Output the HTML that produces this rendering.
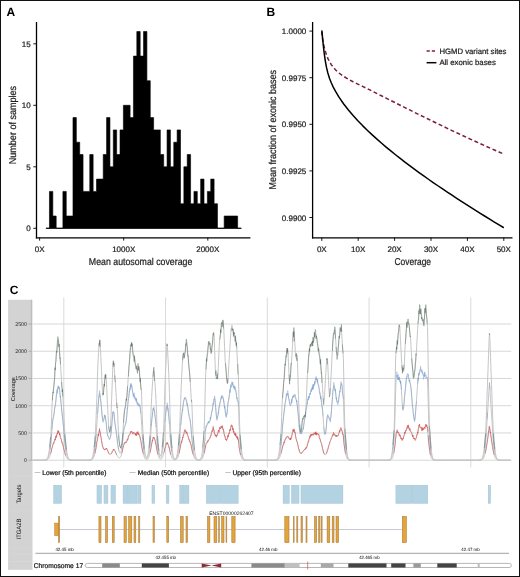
<!DOCTYPE html>
<html><head><meta charset="utf-8"><style>
html,body{margin:0;padding:0;background:#fff;width:520px;height:577px;overflow:hidden}
</style></head><body>
<svg width="520" height="577" viewBox="0 0 520 577" style="display:block;will-change:transform">
<rect x="0" y="0" width="520" height="577" fill="#fff"/>
<g font-family='"Liberation Sans", sans-serif' text-rendering="geometricPrecision">
<text x="6.6" y="16" font-size="12" text-anchor="start" fill="#000" font-weight="bold">A</text>
<path d="M46.1 228.3 L46.1 228.3 L49.46 228.3 L49.46 191.4 L52.82 191.4 L52.82 216 L56.18 216 L56.18 228.3 L59.54 228.3 L59.54 228.3 L62.9 228.3 L62.9 191.4 L66.26 191.4 L66.26 216 L69.62 216 L69.62 216 L72.98 216 L72.98 117.6 L76.34 117.6 L76.34 142.2 L79.7 142.2 L79.7 154.5 L83.06 154.5 L83.06 191.4 L86.42 191.4 L86.42 191.4 L89.78 191.4 L89.78 154.5 L93.14 154.5 L93.14 191.4 L96.5 191.4 L96.5 179.1 L99.86 179.1 L99.86 179.1 L103.22 179.1 L103.22 154.5 L106.58 154.5 L106.58 117.6 L109.94 117.6 L109.94 166.8 L113.3 166.8 L113.3 129.9 L116.66 129.9 L116.66 154.5 L120.02 154.5 L120.02 129.9 L123.38 129.9 L123.38 105.3 L126.74 105.3 L126.74 105.3 L130.1 105.3 L130.1 117.6 L133.46 117.6 L133.46 56.1 L136.82 56.1 L136.82 31.5 L140.18 31.5 L140.18 56.1 L143.54 56.1 L143.54 31.5 L146.9 31.5 L146.9 80.7 L150.26 80.7 L150.26 117.6 L153.62 117.6 L153.62 129.9 L156.98 129.9 L156.98 129.9 L160.34 129.9 L160.34 154.5 L163.7 154.5 L163.7 166.8 L167.06 166.8 L167.06 129.9 L170.42 129.9 L170.42 166.8 L173.78 166.8 L173.78 142.2 L177.14 142.2 L177.14 129.9 L180.5 129.9 L180.5 203.7 L183.86 203.7 L183.86 166.8 L187.22 166.8 L187.22 154.5 L190.58 154.5 L190.58 203.7 L193.94 203.7 L193.94 191.4 L197.3 191.4 L197.3 203.7 L200.66 203.7 L200.66 179.1 L204.02 179.1 L204.02 203.7 L207.38 203.7 L207.38 191.4 L210.74 191.4 L210.74 179.1 L214.1 179.1 L214.1 203.7 L217.46 203.7 L217.46 228.3 L220.82 228.3 L220.82 228.3 L224.18 228.3 L224.18 216 L227.54 216 L227.54 216 L230.9 216 L230.9 216 L234.26 216 L234.26 216 L237.62 216 L237.62 228.3 L240.98 228.3 L240.98 228.3 Z" fill="#000" stroke="#000" stroke-width="0.6"/>
<line x1="45.8" y1="228.3" x2="241.6" y2="228.3" stroke="#000" stroke-width="0.8"/>
<line x1="36.5" y1="22" x2="36.5" y2="238.5" stroke="#000" stroke-width="1.3"/>
<line x1="35.9" y1="237.85" x2="250.4" y2="237.85" stroke="#000" stroke-width="1.4"/>
<line x1="33.3" y1="228.3" x2="36.5" y2="228.3" stroke="#000" stroke-width="0.9"/>
<text x="30.6" y="231.4" font-size="8" text-anchor="end" fill="#222" stroke="#222" stroke-width="0.22">0</text>
<line x1="33.3" y1="166.8" x2="36.5" y2="166.8" stroke="#000" stroke-width="0.9"/>
<text x="30.6" y="169.9" font-size="8" text-anchor="end" fill="#222" stroke="#222" stroke-width="0.22">5</text>
<line x1="33.3" y1="105.3" x2="36.5" y2="105.3" stroke="#000" stroke-width="0.9"/>
<text x="30.6" y="108.4" font-size="8" text-anchor="end" fill="#222" stroke="#222" stroke-width="0.22">10</text>
<line x1="33.3" y1="43.8" x2="36.5" y2="43.8" stroke="#000" stroke-width="0.9"/>
<text x="30.6" y="46.9" font-size="8" text-anchor="end" fill="#222" stroke="#222" stroke-width="0.22">15</text>
<line x1="39.6" y1="237.7" x2="39.6" y2="240.6" stroke="#000" stroke-width="0.9"/>
<text x="39.6" y="251.9" font-size="8" text-anchor="middle" fill="#222" stroke="#222" stroke-width="0.22">0X</text>
<line x1="123.7" y1="237.7" x2="123.7" y2="240.6" stroke="#000" stroke-width="0.9"/>
<text x="123.7" y="251.9" font-size="8" text-anchor="middle" fill="#222" stroke="#222" stroke-width="0.22">1000X</text>
<line x1="207.8" y1="237.7" x2="207.8" y2="240.6" stroke="#000" stroke-width="0.9"/>
<text x="207.8" y="251.9" font-size="8" text-anchor="middle" fill="#222" stroke="#222" stroke-width="0.22">2000X</text>
<text x="140.6" y="265" font-size="10" text-anchor="middle" fill="#222" stroke="#222" stroke-width="0.22" textLength="103.5" lengthAdjust="spacingAndGlyphs">Mean autosomal coverage</text>
<text x="16.3" y="125.1" font-size="10" text-anchor="middle" fill="#222" stroke="#222" stroke-width="0.22" textLength="78.2" lengthAdjust="spacingAndGlyphs" transform="rotate(-90 16.3 125.1)">Number of samples</text>
<text x="266.5" y="16" font-size="12" text-anchor="start" fill="#000" font-weight="bold">B</text>
<line x1="312.6" y1="22" x2="312.6" y2="238.5" stroke="#000" stroke-width="1.3"/>
<line x1="312" y1="237.85" x2="512.5" y2="237.85" stroke="#000" stroke-width="1.4"/>
<line x1="309.4" y1="31.1" x2="312.6" y2="31.1" stroke="#000" stroke-width="0.9"/>
<text x="306.3" y="34.2" font-size="8" text-anchor="end" fill="#222" stroke="#222" stroke-width="0.22">1.0000</text>
<line x1="309.4" y1="77.7" x2="312.6" y2="77.7" stroke="#000" stroke-width="0.9"/>
<text x="306.3" y="80.8" font-size="8" text-anchor="end" fill="#222" stroke="#222" stroke-width="0.22">0.9975</text>
<line x1="309.4" y1="124.3" x2="312.6" y2="124.3" stroke="#000" stroke-width="0.9"/>
<text x="306.3" y="127.4" font-size="8" text-anchor="end" fill="#222" stroke="#222" stroke-width="0.22">0.9950</text>
<line x1="309.4" y1="170.9" x2="312.6" y2="170.9" stroke="#000" stroke-width="0.9"/>
<text x="306.3" y="174" font-size="8" text-anchor="end" fill="#222" stroke="#222" stroke-width="0.22">0.9925</text>
<line x1="309.4" y1="217.5" x2="312.6" y2="217.5" stroke="#000" stroke-width="0.9"/>
<text x="306.3" y="220.6" font-size="8" text-anchor="end" fill="#222" stroke="#222" stroke-width="0.22">0.9900</text>
<line x1="321.8" y1="237.6" x2="321.8" y2="240.9" stroke="#000" stroke-width="0.9"/>
<text x="321.8" y="251.6" font-size="8" text-anchor="middle" fill="#222" stroke="#222" stroke-width="0.22">0X</text>
<line x1="358.2" y1="237.6" x2="358.2" y2="240.9" stroke="#000" stroke-width="0.9"/>
<text x="358.2" y="251.6" font-size="8" text-anchor="middle" fill="#222" stroke="#222" stroke-width="0.22">10X</text>
<line x1="394.6" y1="237.6" x2="394.6" y2="240.9" stroke="#000" stroke-width="0.9"/>
<text x="394.6" y="251.6" font-size="8" text-anchor="middle" fill="#222" stroke="#222" stroke-width="0.22">20X</text>
<line x1="431" y1="237.6" x2="431" y2="240.9" stroke="#000" stroke-width="0.9"/>
<text x="431" y="251.6" font-size="8" text-anchor="middle" fill="#222" stroke="#222" stroke-width="0.22">30X</text>
<line x1="467.4" y1="237.6" x2="467.4" y2="240.9" stroke="#000" stroke-width="0.9"/>
<text x="467.4" y="251.6" font-size="8" text-anchor="middle" fill="#222" stroke="#222" stroke-width="0.22">40X</text>
<line x1="503.8" y1="237.6" x2="503.8" y2="240.9" stroke="#000" stroke-width="0.9"/>
<text x="503.8" y="251.6" font-size="8" text-anchor="middle" fill="#222" stroke="#222" stroke-width="0.22">50X</text>
<text x="412.75" y="264.9" font-size="10" text-anchor="middle" fill="#222" stroke="#222" stroke-width="0.22" textLength="36.5" lengthAdjust="spacingAndGlyphs">Coverage</text>
<text x="276.1" y="129.75" font-size="10" text-anchor="middle" fill="#222" stroke="#222" stroke-width="0.22" textLength="119.5" lengthAdjust="spacingAndGlyphs" transform="rotate(-90 276.1 129.75)">Mean fraction of exonic bases</text>
<path d="M321.8 31.41 L321.89 33.37 L322.18 36.06 L322.65 39.33 L323.31 42.99 L324.17 46.89 L325.21 50.86 L326.44 54.73 L327.86 58.33 L329.47 61.6 L331.27 64.58 L333.26 67.28 L335.43 69.74 L337.8 72 L339 73.01 L343.71 76.42 L348.42 79.23 L353.13 81.73 L357.83 84.07 L362.54 86.37 L367.25 88.69 L371.96 91.03 L376.67 93.38 L381.38 95.75 L386.09 98.12 L390.79 100.49 L395.5 102.86 L400.21 105.22 L404.92 107.58 L409.63 109.93 L414.34 112.27 L419.05 114.6 L423.75 116.92 L428.46 119.23 L433.17 121.53 L437.88 123.81 L442.59 126.07 L447.3 128.32 L452.01 130.56 L456.71 132.78 L461.42 134.99 L466.13 137.18 L470.84 139.36 L475.55 141.51 L480.26 143.66 L484.97 145.78 L489.67 147.89 L494.38 149.98 L499.09 152.06 L503.8 154.12" fill="none" stroke="#7a1c3a" stroke-width="1.5" stroke-dasharray="4 2.6"/>
<path d="M321.8 31.33 L321.89 31.04 L322.18 33.8 L322.65 38.87 L323.31 45.48 L324.17 52.9 L325.21 60.35 L326.44 67.14 L327.86 73.02 L329.47 78.17 L331.27 82.79 L333.26 87.07 L335.43 91.19 L337.8 95.23 L339 97.15 L343.71 103.99 L348.42 110.06 L353.13 115.59 L357.83 120.73 L362.54 125.6 L367.25 130.23 L371.96 134.66 L376.67 138.93 L381.38 143.06 L386.09 147.06 L390.79 150.95 L395.5 154.75 L400.21 158.45 L404.92 162.08 L409.63 165.63 L414.34 169.12 L419.05 172.55 L423.75 175.92 L428.46 179.24 L433.17 182.52 L437.88 185.75 L442.59 188.94 L447.3 192.1 L452.01 195.22 L456.71 198.3 L461.42 201.36 L466.13 204.39 L470.84 207.39 L475.55 210.36 L480.26 213.31 L484.97 216.24 L489.67 219.15 L494.38 222.04 L499.09 224.9 L503.8 227.75" fill="none" stroke="#000" stroke-width="1.5" stroke-linejoin="round"/>
<line x1="426.6" y1="51" x2="436.4" y2="51" stroke="#8a1a3c" stroke-width="1.5" stroke-dasharray="3.2 2"/>
<line x1="426.6" y1="62.7" x2="436.4" y2="62.7" stroke="#000" stroke-width="1.5"/>
<text x="439.4" y="53.8" font-size="7.75" text-anchor="start" fill="#222" stroke="#222" stroke-width="0.22" textLength="67.1" lengthAdjust="spacingAndGlyphs">HGMD variant sites</text>
<text x="439.4" y="65.4" font-size="7.75" text-anchor="start" fill="#222" stroke="#222" stroke-width="0.22" textLength="56.4" lengthAdjust="spacingAndGlyphs">All exonic bases</text>
<text x="9.8" y="294.4" font-size="12" text-anchor="start" fill="#000" font-weight="bold">C</text>
<rect x="8.1" y="299.8" width="24.4" height="270" fill="#d3d3d3"/>
<line x1="8.1" y1="476.2" x2="32.5" y2="476.2" stroke="#d9d9d9" stroke-width="0.7"/>
<line x1="8.1" y1="510.8" x2="32.5" y2="510.8" stroke="#d9d9d9" stroke-width="0.7"/>
<line x1="8.1" y1="547.3" x2="32.5" y2="547.3" stroke="#d9d9d9" stroke-width="0.7"/>
<line x1="8.1" y1="553.8" x2="32.5" y2="553.8" stroke="#d9d9d9" stroke-width="0.7"/>
<line x1="8.1" y1="561.5" x2="32.5" y2="561.5" stroke="#d9d9d9" stroke-width="0.7"/>
<line x1="31.4" y1="299.8" x2="31.4" y2="460.2" stroke="#bdbdbd" stroke-width="1.2"/>
<line x1="32.5" y1="460.2" x2="511.3" y2="460.2" stroke="#d2d2d2" stroke-width="0.9"/>
<line x1="28.6" y1="460.2" x2="31.6" y2="460.2" stroke="#9a9a9a" stroke-width="0.7"/>
<text x="27" y="462.1" font-size="5.3" text-anchor="end" fill="#222">0</text>
<line x1="32.5" y1="432.96" x2="511.3" y2="432.96" stroke="#d2d2d2" stroke-width="0.9"/>
<line x1="28.6" y1="432.96" x2="31.6" y2="432.96" stroke="#9a9a9a" stroke-width="0.7"/>
<text x="27" y="434.86" font-size="5.3" text-anchor="end" fill="#222">500</text>
<line x1="32.5" y1="405.72" x2="511.3" y2="405.72" stroke="#d2d2d2" stroke-width="0.9"/>
<line x1="28.6" y1="405.72" x2="31.6" y2="405.72" stroke="#9a9a9a" stroke-width="0.7"/>
<text x="27" y="407.62" font-size="5.3" text-anchor="end" fill="#222">1000</text>
<line x1="32.5" y1="378.48" x2="511.3" y2="378.48" stroke="#d2d2d2" stroke-width="0.9"/>
<line x1="28.6" y1="378.48" x2="31.6" y2="378.48" stroke="#9a9a9a" stroke-width="0.7"/>
<text x="27" y="380.38" font-size="5.3" text-anchor="end" fill="#222">1500</text>
<line x1="32.5" y1="351.24" x2="511.3" y2="351.24" stroke="#d2d2d2" stroke-width="0.9"/>
<line x1="28.6" y1="351.24" x2="31.6" y2="351.24" stroke="#9a9a9a" stroke-width="0.7"/>
<text x="27" y="353.14" font-size="5.3" text-anchor="end" fill="#222">2000</text>
<line x1="32.5" y1="324" x2="511.3" y2="324" stroke="#d2d2d2" stroke-width="0.9"/>
<line x1="28.6" y1="324" x2="31.6" y2="324" stroke="#9a9a9a" stroke-width="0.7"/>
<text x="27" y="325.9" font-size="5.3" text-anchor="end" fill="#222">2500</text>
<line x1="63.8" y1="297.5" x2="63.8" y2="467.5" stroke="#d6d6d6" stroke-width="0.9"/>
<line x1="165.55" y1="297.5" x2="165.55" y2="467.5" stroke="#d6d6d6" stroke-width="0.9"/>
<line x1="267.3" y1="297.5" x2="267.3" y2="467.5" stroke="#d6d6d6" stroke-width="0.9"/>
<line x1="369.05" y1="297.5" x2="369.05" y2="467.5" stroke="#d6d6d6" stroke-width="0.9"/>
<line x1="470.8" y1="297.5" x2="470.8" y2="467.5" stroke="#d6d6d6" stroke-width="0.9"/>
<text x="15.2" y="389.2" font-size="5.6" text-anchor="middle" fill="#111" textLength="24.3" lengthAdjust="spacingAndGlyphs" transform="rotate(-90 15.2 389.2)">Coverage</text>
<defs><clipPath id="cc"><rect x="32" y="290" width="480" height="167"/></clipPath></defs>
<g fill="none" stroke-linejoin="round">
<path d="M32.50 460.20 L32.83 460.20 L33.16 460.20 L33.49 460.20 L33.82 460.20 L34.15 460.20 L34.48 460.20 L34.81 460.20 L35.14 460.20 L35.47 460.20 L35.80 460.20 L36.13 460.20 L36.46 460.20 L36.79 460.20 L37.12 460.20 L37.45 460.20 L37.78 460.20 L38.11 460.20 L38.44 460.20 L38.77 460.20 L39.10 460.20 L39.43 460.20 L39.76 460.20 L40.09 460.20 L40.42 460.20 L40.75 460.20 L41.08 460.20 L41.41 460.19 L41.74 460.19 L42.07 460.19 L42.40 460.18 L42.73 460.18 L43.06 460.17 L43.39 460.16 L43.72 460.14 L44.05 460.12 L44.38 460.09 L44.71 460.04 L45.04 459.98 L45.37 459.90 L45.70 459.79 L46.03 459.63 L46.36 459.41 L46.69 459.11 L47.02 458.71 L47.35 458.17 L47.68 457.45 L48.01 456.49 L48.34 455.26 L48.67 453.70 L49.00 451.76 L49.33 449.42 L49.66 446.68 L49.99 443.59 L50.32 440.17 L50.65 436.31 L50.98 431.64 L51.31 424.97 L51.64 416.20 L51.97 406.62 L52.30 401.00 L52.63 396.66 L52.96 393.17 L53.29 390.28 L53.62 387.54 L53.95 384.46 L54.28 380.67 L54.61 376.38 L54.94 371.88 L55.27 367.55 L55.60 363.76 L55.93 360.02 L56.26 356.22 L56.59 352.55 L56.92 349.24 L57.25 346.11 L57.58 342.82 L57.91 340.28 L58.24 339.44 L58.57 340.97 L58.90 344.12 L59.23 347.78 L59.56 351.55 L59.89 356.10 L60.22 360.93 L60.55 365.54 L60.88 370.60 L61.21 376.06 L61.54 381.21 L61.87 385.39 L62.20 388.53 L62.53 392.16 L62.86 396.36 L63.19 401.02 L63.52 406.13 L63.85 413.16 L64.18 420.37 L64.51 427.36 L64.84 432.81 L65.17 437.20 L65.50 440.92 L65.83 444.19 L66.16 447.11 L66.49 449.68 L66.82 451.89 L67.15 453.74 L67.48 455.25 L67.81 456.45 L68.14 457.39 L68.47 458.11 L68.80 458.66 L69.13 459.07 L69.46 459.37 L69.79 459.60 L70.12 459.76 L70.45 459.88 L70.78 459.97 L71.11 460.04 L71.44 460.08 L71.77 460.11 L72.10 460.14 L72.43 460.16 L72.76 460.17 L73.09 460.18 L73.42 460.18 L73.75 460.19 L74.08 460.19 L74.41 460.19 L74.74 460.20 L75.07 460.20 L75.40 460.20 L75.73 460.20 L76.06 460.20 L76.39 460.20 L76.72 460.20 L77.05 460.20 L77.38 460.20 L77.71 460.20 L78.04 460.20 L78.37 460.20 L78.70 460.20 L79.03 460.20 L79.36 460.20 L79.69 460.20 L80.02 460.20 L80.35 460.20 L80.68 460.20 L81.01 460.20 L81.34 460.20 L81.67 460.20 L82.00 460.20 L82.33 460.20 L82.66 460.20 L82.99 460.20 L83.32 460.20 L83.65 460.20 L83.98 460.20 L84.31 460.20 L84.64 460.20 L84.97 460.20 L85.30 460.20 L85.63 460.20 L85.96 460.20 L86.29 460.20 L86.62 460.19 L86.95 460.19 L87.28 460.19 L87.61 460.18 L87.94 460.18 L88.27 460.16 L88.60 460.15 L88.93 460.13 L89.26 460.09 L89.59 460.05 L89.92 459.98 L90.25 459.88 L90.58 459.75 L90.91 459.55 L91.24 459.28 L91.57 458.91 L91.90 458.39 L92.23 457.68 L92.56 456.73 L92.89 455.48 L93.22 453.87 L93.55 451.85 L93.88 449.39 L94.21 446.49 L94.54 443.17 L94.87 439.48 L95.20 435.35 L95.53 430.58 L95.86 423.93 L96.19 415.41 L96.52 406.69 L96.85 398.35 L97.18 388.02 L97.51 376.10 L97.84 366.00 L98.17 358.62 L98.50 352.70 L98.83 347.95 L99.16 344.33 L99.49 341.83 L99.82 340.47 L100.15 342.59 L100.48 348.60 L100.81 356.36 L101.14 363.73 L101.47 370.40 L101.80 378.22 L102.13 385.91 L102.46 392.11 L102.79 395.45 L103.12 395.20 L103.45 393.02 L103.78 389.78 L104.11 386.27 L104.44 383.27 L104.77 380.83 L105.10 378.22 L105.43 375.98 L105.76 374.65 L106.09 375.40 L106.42 380.41 L106.75 388.16 L107.08 396.72 L107.41 404.14 L107.74 409.76 L108.07 415.65 L108.40 421.59 L108.73 427.16 L109.06 429.98 L109.39 431.25 L109.72 431.36 L110.05 430.74 L110.38 429.51 L110.71 424.96 L111.04 415.46 L111.37 405.99 L111.70 397.92 L112.03 388.90 L112.36 379.12 L112.69 370.09 L113.02 363.36 L113.35 360.46 L113.68 361.66 L114.01 364.95 L114.34 369.42 L114.67 374.19 L115.00 378.47 L115.33 382.64 L115.66 387.37 L115.99 392.40 L116.32 397.49 L116.65 402.25 L116.98 405.59 L117.31 408.80 L117.64 414.65 L117.97 422.98 L118.30 430.27 L118.63 435.30 L118.96 438.99 L119.29 441.93 L119.62 444.30 L119.95 446.11 L120.28 447.28 L120.61 447.77 L120.94 447.54 L121.27 446.65 L121.60 445.14 L121.93 443.08 L122.26 440.44 L122.59 437.03 L122.92 432.53 L123.25 426.64 L123.58 420.91 L123.91 417.14 L124.24 414.08 L124.57 411.52 L124.90 409.16 L125.23 406.74 L125.56 404.48 L125.89 402.35 L126.22 400.32 L126.55 398.37 L126.88 396.02 L127.21 392.51 L127.54 388.16 L127.87 383.29 L128.20 378.26 L128.53 373.42 L128.86 369.14 L129.19 365.52 L129.52 361.68 L129.85 357.70 L130.18 353.81 L130.51 350.22 L130.84 347.16 L131.17 344.86 L131.50 343.52 L131.83 343.53 L132.16 345.87 L132.49 349.47 L132.82 352.80 L133.15 354.59 L133.48 355.65 L133.81 356.51 L134.14 357.41 L134.47 358.62 L134.80 360.45 L135.13 362.67 L135.46 364.90 L135.79 366.77 L136.12 367.95 L136.45 368.92 L136.78 369.74 L137.11 370.24 L137.44 370.10 L137.77 369.08 L138.10 367.91 L138.43 367.37 L138.76 368.09 L139.09 369.73 L139.42 372.07 L139.75 375.02 L140.08 378.54 L140.41 382.46 L140.74 385.05 L141.07 387.29 L141.40 390.68 L141.73 399.05 L142.06 409.27 L142.39 419.16 L142.72 428.02 L143.05 433.60 L143.38 437.92 L143.71 441.69 L144.04 445.12 L144.37 448.19 L144.70 450.83 L145.03 452.99 L145.36 454.69 L145.69 455.95 L146.02 456.82 L146.35 457.33 L146.68 457.51 L147.01 457.35 L147.34 456.84 L147.67 455.95 L148.00 454.61 L148.33 452.78 L148.66 450.42 L148.99 447.56 L149.32 444.27 L149.65 440.67 L149.98 436.71 L150.31 431.73 L150.64 423.50 L150.97 412.25 L151.30 404.17 L151.63 397.58 L151.96 392.12 L152.29 387.22 L152.62 381.97 L152.95 377.02 L153.28 373.06 L153.61 370.67 L153.94 370.57 L154.27 373.32 L154.60 377.83 L154.93 382.88 L155.26 387.70 L155.59 392.70 L155.92 398.49 L156.25 405.34 L156.58 413.89 L156.91 424.55 L157.24 432.21 L157.57 437.05 L157.90 440.96 L158.23 444.49 L158.56 447.68 L158.89 450.42 L159.22 452.62 L159.55 454.26 L159.88 455.33 L160.21 455.87 L160.54 455.88 L160.87 455.36 L161.20 454.29 L161.53 452.62 L161.86 450.33 L162.19 447.42 L162.52 443.97 L162.85 440.16 L163.18 436.10 L163.51 431.59 L163.84 424.51 L164.17 413.03 L164.50 400.27 L164.83 390.06 L165.16 380.59 L165.49 372.29 L165.82 365.35 L166.15 359.37 L166.48 352.32 L166.81 346.18 L167.14 343.99 L167.47 347.42 L167.80 354.05 L168.13 360.90 L168.46 366.91 L168.79 374.18 L169.12 382.79 L169.45 392.50 L169.78 403.43 L170.11 415.96 L170.44 427.03 L170.77 432.79 L171.10 437.17 L171.43 441.20 L171.76 445.00 L172.09 448.42 L172.42 451.31 L172.75 453.64 L173.08 455.44 L173.41 456.77 L173.74 457.72 L174.07 458.37 L174.40 458.77 L174.73 458.97 L175.06 459.01 L175.39 458.88 L175.72 458.58 L176.05 458.09 L176.38 457.37 L176.71 456.37 L177.04 455.03 L177.37 453.30 L177.70 451.12 L178.03 448.48 L178.36 445.39 L178.69 441.93 L179.02 438.12 L179.35 433.84 L179.68 428.59 L180.01 420.19 L180.34 410.55 L180.67 401.07 L181.00 392.35 L181.33 384.36 L181.66 377.24 L181.99 370.65 L182.32 364.62 L182.65 359.48 L182.98 355.62 L183.31 353.62 L183.64 354.93 L183.97 357.28 L184.30 357.51 L184.63 355.66 L184.96 353.06 L185.29 350.57 L185.62 347.46 L185.95 344.28 L186.28 342.31 L186.61 342.64 L186.94 344.93 L187.27 348.32 L187.60 351.97 L187.93 355.22 L188.26 358.89 L188.59 362.93 L188.92 366.95 L189.25 370.63 L189.58 373.75 L189.91 377.16 L190.24 381.38 L190.57 386.56 L190.90 392.75 L191.23 398.42 L191.56 401.20 L191.89 404.26 L192.22 412.98 L192.55 423.08 L192.88 431.03 L193.21 436.13 L193.54 440.13 L193.87 443.66 L194.20 446.86 L194.53 449.71 L194.86 452.14 L195.19 454.12 L195.52 455.70 L195.85 456.91 L196.18 457.82 L196.51 458.50 L196.84 458.98 L197.17 459.33 L197.50 459.57 L197.83 459.73 L198.16 459.83 L198.49 459.88 L198.82 459.89 L199.15 459.84 L199.48 459.74 L199.81 459.57 L200.14 459.30 L200.47 458.91 L200.80 458.32 L201.13 457.50 L201.46 456.35 L201.79 454.78 L202.12 452.70 L202.45 450.06 L202.78 446.83 L203.11 443.12 L203.44 439.10 L203.77 434.95 L204.10 430.37 L204.43 422.09 L204.76 409.75 L205.09 395.99 L205.42 381.84 L205.75 372.49 L206.08 366.70 L206.41 362.74 L206.74 359.52 L207.07 355.84 L207.40 352.34 L207.73 349.48 L208.06 347.16 L208.39 345.31 L208.72 343.35 L209.05 341.68 L209.38 341.06 L209.71 342.57 L210.04 345.64 L210.37 349.26 L210.70 352.39 L211.03 354.02 L211.36 353.44 L211.69 351.14 L212.02 347.68 L212.35 343.60 L212.68 339.45 L213.01 335.75 L213.34 333.06 L213.67 331.91 L214.00 334.27 L214.33 341.16 L214.66 350.59 L214.99 360.56 L215.32 369.08 L215.65 374.15 L215.98 374.78 L216.31 374.78 L216.64 374.78 L216.97 374.78 L217.30 374.78 L217.63 374.76 L217.96 372.48 L218.29 367.23 L218.62 360.21 L218.95 352.63 L219.28 345.71 L219.61 340.64 L219.94 337.69 L220.27 334.93 L220.60 332.31 L220.93 329.85 L221.26 327.62 L221.59 325.67 L221.92 324.03 L222.25 322.76 L222.58 321.90 L222.91 321.51 L223.24 322.35 L223.57 325.97 L223.90 331.73 L224.23 338.88 L224.56 346.68 L224.89 354.36 L225.22 361.20 L225.55 366.43 L225.88 370.38 L226.21 374.38 L226.54 378.10 L226.87 381.16 L227.20 383.21 L227.53 383.86 L227.86 381.83 L228.19 377.16 L228.52 370.98 L228.85 364.37 L229.18 358.45 L229.51 353.70 L229.84 348.57 L230.17 343.21 L230.50 337.98 L230.83 333.21 L231.16 329.26 L231.49 326.45 L231.82 325.14 L232.15 325.62 L232.48 327.54 L232.81 330.16 L233.14 332.74 L233.47 334.55 L233.80 335.19 L234.13 335.60 L234.46 336.00 L234.79 336.49 L235.12 337.20 L235.45 338.28 L235.78 339.95 L236.11 342.22 L236.44 345.17 L236.77 349.10 L237.10 354.35 L237.43 360.95 L237.76 368.05 L238.09 372.28 L238.42 376.93 L238.75 389.79 L239.08 404.46 L239.41 417.81 L239.74 428.45 L240.07 433.43 L240.40 437.64 L240.73 441.72 L241.06 445.59 L241.39 449.02 L241.72 451.88 L242.05 454.15 L242.38 455.89 L242.71 457.17 L243.04 458.10 L243.37 458.76 L243.70 459.22 L244.03 459.54 L244.36 459.76 L244.69 459.90 L245.02 460.00 L245.35 460.07 L245.68 460.11 L246.01 460.14 L246.34 460.16 L246.67 460.17 L247.00 460.18 L247.33 460.19 L247.66 460.19 L247.99 460.20 L248.32 460.20 L248.65 460.20 L248.98 460.20 L249.31 460.20 L249.64 460.20 L249.97 460.20 L250.30 460.20 L250.63 460.20 L250.96 460.20 L251.29 460.20 L251.62 460.20 L251.95 460.20 L252.28 460.20 L252.61 460.20 L252.94 460.20 L253.27 460.20 L253.60 460.20 L253.93 460.20 L254.26 460.20 L254.59 460.20 L254.92 460.20 L255.25 460.20 L255.58 460.20 L255.91 460.20 L256.24 460.20 L256.57 460.20 L256.90 460.20 L257.23 460.20 L257.56 460.20 L257.89 460.20 L258.22 460.20 L258.55 460.20 L258.88 460.20 L259.21 460.20 L259.54 460.20 L259.87 460.20 L260.20 460.20 L260.53 460.20 L260.86 460.20 L261.19 460.20 L261.52 460.20 L261.85 460.20 L262.18 460.20 L262.51 460.20 L262.84 460.20 L263.17 460.20 L263.50 460.20 L263.83 460.20 L264.16 460.20 L264.49 460.20 L264.82 460.20 L265.15 460.20 L265.48 460.20 L265.81 460.20 L266.14 460.20 L266.47 460.20 L266.80 460.20 L267.13 460.20 L267.46 460.20 L267.79 460.20 L268.12 460.20 L268.45 460.20 L268.78 460.20 L269.11 460.20 L269.44 460.20 L269.77 460.20 L270.10 460.20 L270.43 460.20 L270.76 460.20 L271.09 460.20 L271.42 460.20 L271.75 460.20 L272.08 460.20 L272.41 460.20 L272.74 460.19 L273.07 460.19 L273.40 460.19 L273.73 460.18 L274.06 460.17 L274.39 460.16 L274.72 460.13 L275.05 460.10 L275.38 460.06 L275.71 459.99 L276.04 459.89 L276.37 459.75 L276.70 459.55 L277.03 459.26 L277.36 458.85 L277.69 458.27 L278.02 457.47 L278.35 456.39 L278.68 454.97 L279.01 453.13 L279.34 450.84 L279.67 448.10 L280.00 444.95 L280.33 441.48 L280.66 437.65 L280.99 433.05 L281.32 426.42 L281.65 416.78 L281.98 406.36 L282.31 400.12 L282.64 395.49 L282.97 391.76 L283.30 387.98 L283.63 383.44 L283.96 378.86 L284.29 374.37 L284.62 370.10 L284.95 366.26 L285.28 363.07 L285.61 360.60 L285.94 358.16 L286.27 355.81 L286.60 353.69 L286.93 351.96 L287.26 350.76 L287.59 350.26 L287.92 352.34 L288.25 357.89 L288.58 365.23 L288.91 372.67 L289.24 378.55 L289.57 381.18 L289.90 380.30 L290.23 377.61 L290.56 373.73 L290.89 369.29 L291.22 364.89 L291.55 360.92 L291.88 356.18 L292.21 350.81 L292.54 345.30 L292.87 340.11 L293.20 335.73 L293.53 332.64 L293.86 331.32 L294.19 332.81 L294.52 337.34 L294.85 343.52 L295.18 349.92 L295.51 355.10 L295.84 357.65 L296.17 357.72 L296.50 357.72 L296.83 357.72 L297.16 357.85 L297.49 362.48 L297.82 372.04 L298.15 384.10 L298.48 396.27 L298.81 406.14 L299.14 413.03 L299.47 419.95 L299.80 426.39 L300.13 429.57 L300.46 431.13 L300.79 431.83 L301.12 431.53 L301.45 429.81 L301.78 426.37 L302.11 422.37 L302.44 419.31 L302.77 418.02 L303.10 417.56 L303.43 417.25 L303.76 417.04 L304.09 416.85 L304.42 416.64 L304.75 416.34 L305.08 415.90 L305.41 414.67 L305.74 410.83 L306.07 404.92 L306.40 397.68 L306.73 389.83 L307.06 382.13 L307.39 375.31 L307.72 370.10 L308.05 365.73 L308.38 361.34 L308.71 357.11 L309.04 353.23 L309.37 349.88 L309.70 347.25 L310.03 345.51 L310.36 344.74 L310.69 344.27 L311.02 343.93 L311.35 343.66 L311.68 343.41 L312.01 343.13 L312.34 342.75 L312.67 342.21 L313.00 341.34 L313.33 340.22 L313.66 338.94 L313.99 337.62 L314.32 336.35 L314.65 335.24 L314.98 334.39 L315.31 333.89 L315.64 333.89 L315.97 334.66 L316.30 336.08 L316.63 337.90 L316.96 339.92 L317.29 341.92 L317.62 343.69 L317.95 345.37 L318.28 347.08 L318.61 348.84 L318.94 350.70 L319.27 352.69 L319.60 354.86 L319.93 357.24 L320.26 359.97 L320.59 363.21 L320.92 366.82 L321.25 370.68 L321.58 374.65 L321.91 378.60 L322.24 383.26 L322.57 388.79 L322.90 394.36 L323.23 399.11 L323.56 402.23 L323.89 402.86 L324.22 400.31 L324.55 395.41 L324.88 389.30 L325.21 383.10 L325.54 377.92 L325.87 372.69 L326.20 367.04 L326.53 362.01 L326.86 358.62 L327.19 357.92 L327.52 360.62 L327.85 365.93 L328.18 372.83 L328.51 380.26 L328.84 387.19 L329.17 392.57 L329.50 395.36 L329.83 394.82 L330.16 391.67 L330.49 386.67 L330.82 380.56 L331.15 374.06 L331.48 367.93 L331.81 361.39 L332.14 354.00 L332.47 347.62 L332.80 343.39 L333.13 339.52 L333.46 335.98 L333.79 333.00 L334.12 330.81 L334.45 329.64 L334.78 329.88 L335.11 332.26 L335.44 336.21 L335.77 341.04 L336.10 346.04 L336.43 350.51 L336.76 353.75 L337.09 355.05 L337.42 354.44 L337.75 352.67 L338.08 350.02 L338.41 346.77 L338.74 343.24 L339.07 339.72 L339.40 336.53 L339.73 333.92 L340.06 331.43 L340.39 329.23 L340.72 327.74 L341.05 327.43 L341.38 328.89 L341.71 332.56 L342.04 337.93 L342.37 344.43 L342.70 348.89 L343.03 352.72 L343.36 358.63 L343.69 373.62 L344.02 392.41 L344.35 408.85 L344.68 422.37 L345.01 429.97 L345.34 434.07 L345.67 438.31 L346.00 442.57 L346.33 446.50 L346.66 449.87 L346.99 452.59 L347.32 454.70 L347.65 456.28 L347.98 457.44 L348.31 458.28 L348.64 458.87 L348.97 459.28 L349.30 459.57 L349.63 459.77 L349.96 459.91 L350.29 460.00 L350.62 460.06 L350.95 460.11 L351.28 460.14 L351.61 460.16 L351.94 460.17 L352.27 460.18 L352.60 460.19 L352.93 460.19 L353.26 460.19 L353.59 460.20 L353.92 460.20 L354.25 460.20 L354.58 460.20 L354.91 460.20 L355.24 460.20 L355.57 460.20 L355.90 460.20 L356.23 460.20 L356.56 460.20 L356.89 460.20 L357.22 460.20 L357.55 460.20 L357.88 460.20 L358.21 460.20 L358.54 460.20 L358.87 460.20 L359.20 460.20 L359.53 460.20 L359.86 460.20 L360.19 460.20 L360.52 460.20 L360.85 460.20 L361.18 460.20 L361.51 460.20 L361.84 460.20 L362.17 460.20 L362.50 460.20 L362.83 460.20 L363.16 460.20 L363.49 460.20 L363.82 460.20 L364.15 460.20 L364.48 460.20 L364.81 460.20 L365.14 460.20 L365.47 460.20 L365.80 460.20 L366.13 460.20 L366.46 460.20 L366.79 460.20 L367.12 460.20 L367.45 460.20 L367.78 460.20 L368.11 460.20 L368.44 460.20 L368.77 460.20 L369.10 460.20 L369.43 460.20 L369.76 460.20 L370.09 460.20 L370.42 460.20 L370.75 460.20 L371.08 460.20 L371.41 460.20 L371.74 460.20 L372.07 460.20 L372.40 460.20 L372.73 460.20 L373.06 460.20 L373.39 460.20 L373.72 460.20 L374.05 460.20 L374.38 460.20 L374.71 460.20 L375.04 460.20 L375.37 460.20 L375.70 460.20 L376.03 460.20 L376.36 460.20 L376.69 460.20 L377.02 460.20 L377.35 460.20 L377.68 460.20 L378.01 460.20 L378.34 460.20 L378.67 460.20 L379.00 460.20 L379.33 460.20 L379.66 460.20 L379.99 460.20 L380.32 460.20 L380.65 460.20 L380.98 460.20 L381.31 460.20 L381.64 460.20 L381.97 460.20 L382.30 460.20 L382.63 460.20 L382.96 460.20 L383.29 460.20 L383.62 460.20 L383.95 460.20 L384.28 460.20 L384.61 460.20 L384.94 460.20 L385.27 460.20 L385.60 460.20 L385.93 460.20 L386.26 460.19 L386.59 460.19 L386.92 460.18 L387.25 460.18 L387.58 460.17 L387.91 460.15 L388.24 460.12 L388.57 460.08 L388.90 460.02 L389.23 459.93 L389.56 459.80 L389.89 459.60 L390.22 459.31 L390.55 458.88 L390.88 458.25 L391.21 457.35 L391.54 456.09 L391.87 454.36 L392.20 452.04 L392.53 449.05 L392.86 445.37 L393.19 441.17 L393.52 436.78 L393.85 432.62 L394.18 428.54 L394.51 417.56 L394.84 401.86 L395.17 383.06 L395.50 362.14 L395.83 354.61 L396.16 350.75 L396.49 349.21 L396.82 347.65 L397.15 343.95 L397.48 340.87 L397.81 338.34 L398.14 335.39 L398.47 331.78 L398.80 328.16 L399.13 325.33 L399.46 324.23 L399.79 327.22 L400.12 333.21 L400.45 339.53 L400.78 345.34 L401.11 352.14 L401.44 358.92 L401.77 364.66 L402.10 368.30 L402.43 369.67 L402.76 370.70 L403.09 371.46 L403.42 371.88 L403.75 371.51 L404.08 367.98 L404.41 361.95 L404.74 354.70 L405.07 347.51 L405.40 341.66 L405.73 337.55 L406.06 333.43 L406.39 329.46 L406.72 325.95 L407.05 323.21 L407.38 321.56 L407.71 321.26 L408.04 321.74 L408.37 322.74 L408.70 324.19 L409.03 326.01 L409.36 328.14 L409.69 330.49 L410.02 333.00 L410.35 335.81 L410.68 340.23 L411.01 345.85 L411.34 351.88 L411.67 357.57 L412.00 362.14 L412.33 366.08 L412.66 370.09 L412.99 373.66 L413.32 376.29 L413.65 377.48 L413.98 377.02 L414.31 375.36 L414.64 372.75 L414.97 369.43 L415.30 365.65 L415.63 361.66 L415.96 357.70 L416.29 353.30 L416.62 347.75 L416.95 341.58 L417.28 335.32 L417.61 329.52 L417.94 324.72 L418.27 320.74 L418.60 316.69 L418.93 313.02 L419.26 310.21 L419.59 308.74 L419.92 308.79 L420.25 309.51 L420.58 310.71 L420.91 312.22 L421.24 313.92 L421.57 315.66 L421.90 317.28 L422.23 318.67 L422.56 320.13 L422.89 321.69 L423.22 323.01 L423.55 323.74 L423.88 323.05 L424.21 320.40 L424.54 316.63 L424.87 312.63 L425.20 309.33 L425.53 307.69 L425.86 308.43 L426.19 311.00 L426.52 314.78 L426.85 318.61 L427.18 321.95 L427.51 327.34 L427.84 342.64 L428.17 362.14 L428.50 381.78 L428.83 400.00 L429.16 415.64 L429.49 427.74 L429.82 431.42 L430.15 435.60 L430.48 440.16 L430.81 444.56 L431.14 448.41 L431.47 451.56 L431.80 454.00 L432.13 455.83 L432.46 457.16 L432.79 458.11 L433.12 458.78 L433.45 459.24 L433.78 459.55 L434.11 459.77 L434.44 459.91 L434.77 460.01 L435.10 460.07 L435.43 460.12 L435.76 460.14 L436.09 460.16 L436.42 460.18 L436.75 460.18 L437.08 460.19 L437.41 460.19 L437.74 460.20 L438.07 460.20 L438.40 460.20 L438.73 460.20 L439.06 460.20 L439.39 460.20 L439.72 460.20 L440.05 460.20 L440.38 460.20 L440.71 460.20 L441.04 460.20 L441.37 460.20 L441.70 460.20 L442.03 460.20 L442.36 460.20 L442.69 460.20 L443.02 460.20 L443.35 460.20 L443.68 460.20 L444.01 460.20 L444.34 460.20 L444.67 460.20 L445.00 460.20 L445.33 460.20 L445.66 460.20 L445.99 460.20 L446.32 460.20 L446.65 460.20 L446.98 460.20 L447.31 460.20 L447.64 460.20 L447.97 460.20 L448.30 460.20 L448.63 460.20 L448.96 460.20 L449.29 460.20 L449.62 460.20 L449.95 460.20 L450.28 460.20 L450.61 460.20 L450.94 460.20 L451.27 460.20 L451.60 460.20 L451.93 460.20 L452.26 460.20 L452.59 460.20 L452.92 460.20 L453.25 460.20 L453.58 460.20 L453.91 460.20 L454.24 460.20 L454.57 460.20 L454.90 460.20 L455.23 460.20 L455.56 460.20 L455.89 460.20 L456.22 460.20 L456.55 460.20 L456.88 460.20 L457.21 460.20 L457.54 460.20 L457.87 460.20 L458.20 460.20 L458.53 460.20 L458.86 460.20 L459.19 460.20 L459.52 460.20 L459.85 460.20 L460.18 460.20 L460.51 460.20 L460.84 460.20 L461.17 460.20 L461.50 460.20 L461.83 460.20 L462.16 460.20 L462.49 460.20 L462.82 460.20 L463.15 460.20 L463.48 460.20 L463.81 460.20 L464.14 460.20 L464.47 460.20 L464.80 460.20 L465.13 460.20 L465.46 460.20 L465.79 460.20 L466.12 460.20 L466.45 460.20 L466.78 460.20 L467.11 460.20 L467.44 460.20 L467.77 460.20 L468.10 460.20 L468.43 460.20 L468.76 460.20 L469.09 460.20 L469.42 460.20 L469.75 460.20 L470.08 460.20 L470.41 460.20 L470.74 460.20 L471.07 460.20 L471.40 460.20 L471.73 460.20 L472.06 460.20 L472.39 460.20 L472.72 460.20 L473.05 460.20 L473.38 460.20 L473.71 460.20 L474.04 460.20 L474.37 460.20 L474.70 460.20 L475.03 460.20 L475.36 460.20 L475.69 460.20 L476.02 460.20 L476.35 460.20 L476.68 460.20 L477.01 460.19 L477.34 460.19 L477.67 460.19 L478.00 460.18 L478.33 460.17 L478.66 460.16 L478.99 460.14 L479.32 460.11 L479.65 460.07 L479.98 460.01 L480.31 459.93 L480.64 459.81 L480.97 459.64 L481.30 459.41 L481.63 459.08 L481.96 458.63 L482.29 458.01 L482.62 457.17 L482.95 456.05 L483.28 454.60 L483.61 452.76 L483.94 450.48 L484.27 447.75 L484.60 444.59 L484.93 441.04 L485.26 437.11 L485.59 432.68 L485.92 427.40 L486.25 419.05 L486.58 409.86 L486.91 400.30 L487.24 390.90 L487.57 382.10 L487.90 373.03 L488.23 363.65 L488.56 354.70 L488.89 346.09 L489.22 336.91 L489.55 333.50 L489.88 339.41 L490.21 348.93 L490.54 357.32 L490.87 366.49 L491.20 375.84 L491.53 384.71 L491.86 393.70 L492.19 403.20 L492.52 412.70 L492.85 421.68 L493.18 429.13 L493.51 434.09 L493.84 438.35 L494.17 442.15 L494.50 445.59 L494.83 448.62 L495.16 451.22 L495.49 453.36 L495.82 455.08 L496.15 456.42 L496.48 457.45 L496.81 458.22 L497.14 458.78 L497.47 459.19 L497.80 459.49 L498.13 459.70 L498.46 459.85 L498.79 459.96 L499.12 460.03 L499.45 460.08 L499.78 460.12 L500.11 460.14 L500.44 460.16 L500.77 460.17 L501.10 460.18 L501.43 460.19 L501.76 460.19 L502.09 460.19 L502.42 460.20 L502.75 460.20 L503.08 460.20 L503.41 460.20 L503.74 460.20 L504.07 460.20 L504.40 460.20 L504.73 460.20 L505.06 460.20 L505.39 460.20 L505.72 460.20 L506.05 460.20 L506.38 460.20 L506.71 460.20 L507.04 460.20 L507.37 460.20 L507.70 460.20 L508.03 460.20 L508.36 460.20 L508.69 460.20 L509.02 460.20 L509.35 460.20 L509.68 460.20 L510.01 460.20 L510.34 460.20 L510.67 460.20" stroke="#c6c6c6" stroke-width="1.0"/>
<path d="M32.50 460.20 L32.83 460.20 L33.16 460.20 L33.49 460.20 L33.82 460.20 L34.15 460.20 L34.48 460.20 L34.81 460.20 L35.14 460.20 L35.47 460.20 L35.80 460.20 L36.13 460.20 L36.46 460.20 L36.79 460.20 L37.12 460.20 L37.45 460.20 L37.78 460.20 L38.11 460.20 L38.44 460.20 L38.77 460.20 L39.10 460.20 L39.43 460.20 L39.76 460.20 L40.09 460.20 L40.42 460.20 L40.75 460.20 L41.08 460.20 L41.41 460.20 L41.74 460.20 L42.07 460.19 L42.40 460.19 L42.73 460.19 L43.06 460.18 L43.39 460.17 L43.72 460.17 L44.05 460.15 L44.38 460.13 L44.71 460.11 L45.04 460.07 L45.37 460.02 L45.70 459.95 L46.03 459.86 L46.36 459.73 L46.69 459.55 L47.02 459.30 L47.35 458.98 L47.68 458.54 L48.01 457.97 L48.34 457.22 L48.67 456.26 L49.00 455.06 L49.33 453.59 L49.66 451.84 L49.99 449.80 L50.32 447.49 L50.65 444.90 L50.98 441.95 L51.31 438.43 L51.64 433.97 L51.97 428.13 L52.30 424.57 L52.63 421.85 L52.96 419.65 L53.29 417.82 L53.62 416.11 L53.95 414.21 L54.28 411.97 L54.61 409.52 L54.94 407.00 L55.27 404.56 L55.60 402.33 L55.93 399.86 L56.26 397.19 L56.59 394.64 L56.92 392.51 L57.25 390.86 L57.58 389.26 L57.91 387.84 L58.24 386.77 L58.57 386.24 L58.90 386.56 L59.23 388.14 L59.56 390.40 L59.89 392.75 L60.22 395.60 L60.55 398.84 L60.88 401.98 L61.21 404.79 L61.54 407.87 L61.87 411.04 L62.20 414.09 L62.53 416.86 L62.86 419.77 L63.19 423.09 L63.52 426.68 L63.85 431.10 L64.18 435.29 L64.51 439.03 L64.84 442.29 L65.17 445.14 L65.50 447.66 L65.83 449.89 L66.16 451.86 L66.49 453.55 L66.82 454.98 L67.15 456.16 L67.48 457.11 L67.81 457.87 L68.14 458.45 L68.47 458.90 L68.80 459.24 L69.13 459.50 L69.46 459.69 L69.79 459.83 L70.12 459.93 L70.45 460.00 L70.78 460.06 L71.11 460.10 L71.44 460.13 L71.77 460.15 L72.10 460.16 L72.43 460.17 L72.76 460.18 L73.09 460.19 L73.42 460.19 L73.75 460.19 L74.08 460.19 L74.41 460.20 L74.74 460.20 L75.07 460.20 L75.40 460.20 L75.73 460.20 L76.06 460.20 L76.39 460.20 L76.72 460.20 L77.05 460.20 L77.38 460.20 L77.71 460.20 L78.04 460.20 L78.37 460.20 L78.70 460.20 L79.03 460.20 L79.36 460.20 L79.69 460.20 L80.02 460.20 L80.35 460.20 L80.68 460.20 L81.01 460.20 L81.34 460.20 L81.67 460.20 L82.00 460.20 L82.33 460.20 L82.66 460.20 L82.99 460.20 L83.32 460.20 L83.65 460.20 L83.98 460.20 L84.31 460.20 L84.64 460.20 L84.97 460.20 L85.30 460.20 L85.63 460.20 L85.96 460.20 L86.29 460.20 L86.62 460.20 L86.95 460.20 L87.28 460.19 L87.61 460.19 L87.94 460.19 L88.27 460.18 L88.60 460.17 L88.93 460.16 L89.26 460.14 L89.59 460.11 L89.92 460.07 L90.25 460.02 L90.58 459.94 L90.91 459.82 L91.24 459.67 L91.57 459.45 L91.90 459.14 L92.23 458.73 L92.56 458.17 L92.89 457.44 L93.22 456.48 L93.55 455.28 L93.88 453.78 L94.21 451.98 L94.54 449.87 L94.87 447.44 L95.20 444.69 L95.53 441.55 L95.86 437.91 L96.19 433.69 L96.52 428.96 L96.85 424.12 L97.18 419.27 L97.51 414.44 L97.84 410.03 L98.17 406.06 L98.50 402.04 L98.83 397.89 L99.16 394.62 L99.49 393.27 L99.82 393.90 L100.15 395.85 L100.48 398.56 L100.81 401.46 L101.14 404.17 L101.47 407.60 L101.80 411.52 L102.13 415.36 L102.46 418.57 L102.79 420.58 L103.12 420.92 L103.45 420.26 L103.78 419.13 L104.11 417.80 L104.44 416.57 L104.77 415.73 L105.10 415.60 L105.43 416.79 L105.76 419.14 L106.09 422.26 L106.42 425.77 L106.75 429.20 L107.08 431.94 L107.41 433.93 L107.74 435.25 L108.07 436.38 L108.40 437.37 L108.73 438.16 L109.06 438.69 L109.39 438.92 L109.72 438.81 L110.05 438.34 L110.38 437.34 L110.71 435.71 L111.04 433.35 L111.37 430.11 L111.70 425.97 L112.03 421.62 L112.36 417.63 L112.69 414.33 L113.02 412.06 L113.35 411.16 L113.68 411.94 L114.01 414.13 L114.34 417.15 L114.67 420.42 L115.00 423.37 L115.33 425.59 L115.66 427.77 L115.99 430.18 L116.32 432.77 L116.65 435.47 L116.98 438.20 L117.31 440.84 L117.64 443.41 L117.97 445.75 L118.30 447.81 L118.63 449.56 L118.96 451.00 L119.29 452.10 L119.62 452.84 L119.95 453.18 L120.28 453.11 L120.61 452.62 L120.94 451.72 L121.27 450.43 L121.60 448.79 L121.93 446.83 L122.26 444.48 L122.59 441.54 L122.92 437.66 L123.25 434.18 L123.58 431.41 L123.91 429.26 L124.24 427.79 L124.57 426.88 L124.90 426.21 L125.23 425.52 L125.56 424.58 L125.89 422.96 L126.22 420.58 L126.55 417.59 L126.88 414.19 L127.21 410.60 L127.54 407.04 L127.87 403.75 L128.20 400.98 L128.53 398.68 L128.86 396.25 L129.19 393.76 L129.52 391.36 L129.85 389.17 L130.18 387.32 L130.51 385.96 L130.84 385.22 L131.17 385.26 L131.50 386.14 L131.83 387.63 L132.16 389.40 L132.49 391.17 L132.82 392.63 L133.15 393.55 L133.48 394.26 L133.81 394.87 L134.14 395.41 L134.47 395.92 L134.80 396.42 L135.13 396.97 L135.46 397.58 L135.79 398.31 L136.12 399.31 L136.45 400.52 L136.78 401.81 L137.11 403.05 L137.44 404.12 L137.77 404.88 L138.10 405.24 L138.43 405.31 L138.76 405.27 L139.09 405.30 L139.42 405.59 L139.75 406.26 L140.08 407.33 L140.41 408.98 L140.74 411.38 L141.07 414.88 L141.40 419.95 L141.73 425.55 L142.06 431.28 L142.39 436.15 L142.72 440.13 L143.05 443.47 L143.38 446.38 L143.71 448.97 L144.04 451.23 L144.37 453.17 L144.70 454.77 L145.03 456.06 L145.36 457.04 L145.69 457.76 L146.02 458.25 L146.35 458.53 L146.68 458.61 L147.01 458.50 L147.34 458.18 L147.67 457.62 L148.00 456.78 L148.33 455.64 L148.66 454.14 L148.99 452.29 L149.32 450.09 L149.65 447.58 L149.98 444.77 L150.31 441.50 L150.64 437.26 L150.97 431.19 L151.30 425.87 L151.63 421.80 L151.96 418.54 L152.29 415.73 L152.62 412.84 L152.95 410.54 L153.28 409.08 L153.61 408.43 L153.94 408.68 L154.27 410.05 L154.60 412.25 L154.93 414.92 L155.26 417.75 L155.59 420.74 L155.92 424.23 L156.25 428.46 L156.58 433.70 L156.91 438.83 L157.24 442.64 L157.57 445.72 L157.90 448.38 L158.23 450.74 L158.56 452.78 L158.89 454.47 L159.22 455.79 L159.55 456.77 L159.88 457.41 L160.21 457.74 L160.54 457.78 L160.87 457.51 L161.20 456.94 L161.53 456.02 L161.86 454.74 L162.19 453.08 L162.52 451.05 L162.85 448.66 L163.18 445.96 L163.51 442.90 L163.84 439.23 L164.17 434.34 L164.50 427.51 L164.83 422.72 L165.16 418.71 L165.49 415.45 L165.82 412.66 L166.15 409.93 L166.48 407.49 L166.81 405.75 L167.14 405.19 L167.47 406.08 L167.80 408.03 L168.13 410.58 L168.46 413.31 L168.79 416.18 L169.12 419.61 L169.45 423.82 L169.78 429.38 L170.11 435.69 L170.44 440.22 L170.77 443.72 L171.10 446.69 L171.43 449.33 L171.76 451.67 L172.09 453.67 L172.42 455.31 L172.75 456.60 L173.08 457.59 L173.41 458.32 L173.74 458.84 L174.07 459.19 L174.40 459.40 L174.73 459.50 L175.06 459.51 L175.39 459.42 L175.72 459.24 L176.05 458.94 L176.38 458.50 L176.71 457.90 L177.04 457.09 L177.37 456.04 L177.70 454.71 L178.03 453.07 L178.36 451.13 L178.69 448.88 L179.02 446.35 L179.35 443.48 L179.68 440.12 L180.01 435.96 L180.34 430.61 L180.67 425.49 L181.00 422.01 L181.33 419.09 L181.66 416.53 L181.99 413.97 L182.32 411.29 L182.65 408.66 L182.98 406.19 L183.31 404.04 L183.64 402.27 L183.97 400.48 L184.30 398.92 L184.63 398.00 L184.96 397.97 L185.29 398.46 L185.62 399.26 L185.95 400.14 L186.28 401.05 L186.61 402.14 L186.94 403.37 L187.27 404.72 L187.60 406.20 L187.93 408.19 L188.26 410.53 L188.59 412.89 L188.92 414.96 L189.25 416.46 L189.58 417.57 L189.91 419.04 L190.24 420.97 L190.57 423.44 L190.90 426.48 L191.23 430.27 L191.56 434.30 L191.89 438.12 L192.22 441.54 L192.55 444.53 L192.88 447.14 L193.21 449.45 L193.54 451.49 L193.87 453.27 L194.20 454.78 L194.53 456.04 L194.86 457.06 L195.19 457.86 L195.52 458.48 L195.85 458.95 L196.18 459.30 L196.51 459.56 L196.84 459.74 L197.17 459.87 L197.50 459.96 L197.83 460.02 L198.16 460.06 L198.49 460.08 L198.82 460.08 L199.15 460.07 L199.48 460.03 L199.81 459.97 L200.14 459.87 L200.47 459.72 L200.80 459.51 L201.13 459.21 L201.46 458.78 L201.79 458.20 L202.12 457.42 L202.45 456.40 L202.78 455.12 L203.11 453.56 L203.44 451.72 L203.77 449.63 L204.10 447.30 L204.43 444.63 L204.76 441.41 L205.09 437.33 L205.42 432.21 L205.75 428.49 L206.08 426.73 L206.41 426.01 L206.74 425.67 L207.07 425.16 L207.40 424.18 L207.73 423.40 L208.06 422.84 L208.39 422.41 L208.72 422.08 L209.05 421.81 L209.38 421.56 L209.71 421.01 L210.04 420.09 L210.37 418.88 L210.70 417.44 L211.03 415.86 L211.36 414.22 L211.69 412.60 L212.02 411.08 L212.35 409.33 L212.68 407.20 L213.01 404.91 L213.34 402.65 L213.67 400.65 L214.00 399.10 L214.33 398.22 L214.66 398.34 L214.99 400.19 L215.32 403.38 L215.65 407.32 L215.98 411.44 L216.31 415.16 L216.64 417.89 L216.97 419.06 L217.30 418.67 L217.63 417.46 L217.96 415.65 L218.29 413.46 L218.62 411.11 L218.95 408.82 L219.28 406.80 L219.61 405.24 L219.94 403.70 L220.27 402.11 L220.60 400.53 L220.93 399.04 L221.26 397.73 L221.59 396.68 L221.92 395.96 L222.25 395.65 L222.58 395.92 L222.91 396.88 L223.24 398.36 L223.57 400.18 L223.90 402.18 L224.23 404.19 L224.56 406.06 L224.89 408.39 L225.22 411.14 L225.55 413.77 L225.88 415.72 L226.21 416.45 L226.54 415.75 L226.87 413.95 L227.20 411.38 L227.53 408.39 L227.86 405.30 L228.19 402.44 L228.52 400.15 L228.85 398.11 L229.18 395.95 L229.51 393.74 L229.84 391.57 L230.17 389.50 L230.50 387.61 L230.83 385.98 L231.16 384.69 L231.49 383.80 L231.82 383.40 L232.15 383.48 L232.48 383.85 L232.81 384.38 L233.14 384.97 L233.47 385.52 L233.80 385.99 L234.13 386.45 L234.46 386.97 L234.79 387.57 L235.12 388.33 L235.45 389.36 L235.78 390.95 L236.11 392.94 L236.44 395.13 L236.77 397.35 L237.10 398.86 L237.43 399.31 L237.76 399.79 L238.09 401.30 L238.42 404.61 L238.75 413.26 L239.08 423.04 L239.41 431.36 L239.74 436.75 L240.07 440.75 L240.40 444.22 L240.73 447.39 L241.06 450.23 L241.39 452.64 L241.72 454.61 L242.05 456.15 L242.38 457.32 L242.71 458.18 L243.04 458.80 L243.37 459.24 L243.70 459.55 L244.03 459.76 L244.36 459.91 L244.69 460.00 L245.02 460.07 L245.35 460.11 L245.68 460.14 L246.01 460.16 L246.34 460.17 L246.67 460.18 L247.00 460.19 L247.33 460.19 L247.66 460.20 L247.99 460.20 L248.32 460.20 L248.65 460.20 L248.98 460.20 L249.31 460.20 L249.64 460.20 L249.97 460.20 L250.30 460.20 L250.63 460.20 L250.96 460.20 L251.29 460.20 L251.62 460.20 L251.95 460.20 L252.28 460.20 L252.61 460.20 L252.94 460.20 L253.27 460.20 L253.60 460.20 L253.93 460.20 L254.26 460.20 L254.59 460.20 L254.92 460.20 L255.25 460.20 L255.58 460.20 L255.91 460.20 L256.24 460.20 L256.57 460.20 L256.90 460.20 L257.23 460.20 L257.56 460.20 L257.89 460.20 L258.22 460.20 L258.55 460.20 L258.88 460.20 L259.21 460.20 L259.54 460.20 L259.87 460.20 L260.20 460.20 L260.53 460.20 L260.86 460.20 L261.19 460.20 L261.52 460.20 L261.85 460.20 L262.18 460.20 L262.51 460.20 L262.84 460.20 L263.17 460.20 L263.50 460.20 L263.83 460.20 L264.16 460.20 L264.49 460.20 L264.82 460.20 L265.15 460.20 L265.48 460.20 L265.81 460.20 L266.14 460.20 L266.47 460.20 L266.80 460.20 L267.13 460.20 L267.46 460.20 L267.79 460.20 L268.12 460.20 L268.45 460.20 L268.78 460.20 L269.11 460.20 L269.44 460.20 L269.77 460.20 L270.10 460.20 L270.43 460.20 L270.76 460.20 L271.09 460.20 L271.42 460.20 L271.75 460.20 L272.08 460.20 L272.41 460.20 L272.74 460.20 L273.07 460.20 L273.40 460.19 L273.73 460.19 L274.06 460.18 L274.39 460.18 L274.72 460.17 L275.05 460.15 L275.38 460.13 L275.71 460.10 L276.04 460.05 L276.37 459.98 L276.70 459.87 L277.03 459.73 L277.36 459.52 L277.69 459.23 L278.02 458.83 L278.35 458.29 L278.68 457.56 L279.01 456.61 L279.34 455.40 L279.67 453.90 L280.00 452.11 L280.33 450.02 L280.66 447.65 L280.99 444.96 L281.32 441.84 L281.65 438.08 L281.98 433.49 L282.31 429.14 L282.64 425.15 L282.97 421.74 L283.30 418.83 L283.63 416.41 L283.96 413.90 L284.29 411.02 L284.62 407.95 L284.95 404.94 L285.28 402.26 L285.61 400.22 L285.94 398.56 L286.27 396.94 L286.60 395.45 L286.93 394.23 L287.26 393.38 L287.59 393.03 L287.92 393.51 L288.25 394.89 L288.58 396.85 L288.91 399.07 L289.24 401.24 L289.57 403.04 L289.90 404.15 L290.23 404.33 L290.56 404.00 L290.89 403.37 L291.22 402.51 L291.55 401.48 L291.88 400.36 L292.21 399.22 L292.54 398.11 L292.87 397.13 L293.20 396.32 L293.53 395.77 L293.86 395.54 L294.19 395.62 L294.52 395.92 L294.85 396.42 L295.18 397.08 L295.51 397.88 L295.84 398.80 L296.17 399.80 L296.50 400.91 L296.83 402.68 L297.16 405.11 L297.49 408.00 L297.82 411.14 L298.15 414.31 L298.48 417.37 L298.81 421.15 L299.14 425.48 L299.47 429.23 L299.80 431.61 L300.13 432.85 L300.46 433.21 L300.79 433.32 L301.12 433.21 L301.45 432.90 L301.78 432.43 L302.11 431.82 L302.44 431.10 L302.77 430.32 L303.10 429.16 L303.43 427.54 L303.76 425.38 L304.09 423.00 L304.42 420.56 L304.75 418.23 L305.08 416.13 L305.41 414.03 L305.74 411.84 L306.07 409.64 L306.40 407.47 L306.73 405.41 L307.06 403.52 L307.39 401.85 L307.72 400.47 L308.05 399.30 L308.38 398.22 L308.71 397.23 L309.04 396.32 L309.37 395.46 L309.70 394.66 L310.03 393.88 L310.36 393.13 L310.69 392.39 L311.02 391.64 L311.35 390.88 L311.68 390.10 L312.01 389.36 L312.34 388.66 L312.67 387.96 L313.00 387.26 L313.33 386.53 L313.66 385.75 L313.99 384.86 L314.32 383.73 L314.65 382.44 L314.98 381.12 L315.31 379.88 L315.64 378.85 L315.97 378.14 L316.30 377.88 L316.63 378.27 L316.96 379.28 L317.29 380.69 L317.62 382.24 L317.95 383.73 L318.28 385.06 L318.61 386.43 L318.94 387.86 L319.27 389.36 L319.60 390.95 L319.93 392.65 L320.26 394.46 L320.59 396.35 L320.92 398.35 L321.25 400.47 L321.58 402.72 L321.91 405.11 L322.24 407.65 L322.57 410.37 L322.90 413.77 L323.23 418.25 L323.56 423.28 L323.89 428.17 L324.22 431.35 L324.55 433.22 L324.88 434.07 L325.21 434.11 L325.54 433.30 L325.87 431.37 L326.20 428.12 L326.53 423.88 L326.86 419.99 L327.19 417.04 L327.52 415.59 L327.85 415.67 L328.18 416.21 L328.51 417.04 L328.84 418.00 L329.17 418.97 L329.50 419.81 L329.83 420.38 L330.16 420.51 L330.49 419.50 L330.82 417.23 L331.15 413.97 L331.48 410.00 L331.81 405.60 L332.14 401.03 L332.47 396.58 L332.80 392.53 L333.13 389.14 L333.46 386.70 L333.79 385.49 L334.12 385.58 L334.45 386.45 L334.78 387.90 L335.11 389.80 L335.44 391.99 L335.77 394.32 L336.10 396.64 L336.43 398.80 L336.76 400.66 L337.09 402.06 L337.42 402.86 L337.75 402.93 L338.08 402.32 L338.41 401.13 L338.74 399.45 L339.07 397.40 L339.40 395.09 L339.73 392.64 L340.06 390.19 L340.39 387.91 L340.72 386.01 L341.05 384.72 L341.38 384.33 L341.71 385.22 L342.04 387.51 L342.37 390.70 L342.70 393.83 L343.03 395.78 L343.36 398.52 L343.69 407.29 L344.02 418.77 L344.35 428.60 L344.68 434.54 L345.01 438.80 L345.34 442.49 L345.67 445.90 L346.00 448.98 L346.33 451.62 L346.66 453.80 L346.99 455.51 L347.32 456.82 L347.65 457.80 L347.98 458.51 L348.31 459.02 L348.64 459.39 L348.97 459.64 L349.30 459.82 L349.63 459.94 L349.96 460.02 L350.29 460.08 L350.62 460.12 L350.95 460.14 L351.28 460.16 L351.61 460.17 L351.94 460.18 L352.27 460.19 L352.60 460.19 L352.93 460.19 L353.26 460.20 L353.59 460.20 L353.92 460.20 L354.25 460.20 L354.58 460.20 L354.91 460.20 L355.24 460.20 L355.57 460.20 L355.90 460.20 L356.23 460.20 L356.56 460.20 L356.89 460.20 L357.22 460.20 L357.55 460.20 L357.88 460.20 L358.21 460.20 L358.54 460.20 L358.87 460.20 L359.20 460.20 L359.53 460.20 L359.86 460.20 L360.19 460.20 L360.52 460.20 L360.85 460.20 L361.18 460.20 L361.51 460.20 L361.84 460.20 L362.17 460.20 L362.50 460.20 L362.83 460.20 L363.16 460.20 L363.49 460.20 L363.82 460.20 L364.15 460.20 L364.48 460.20 L364.81 460.20 L365.14 460.20 L365.47 460.20 L365.80 460.20 L366.13 460.20 L366.46 460.20 L366.79 460.20 L367.12 460.20 L367.45 460.20 L367.78 460.20 L368.11 460.20 L368.44 460.20 L368.77 460.20 L369.10 460.20 L369.43 460.20 L369.76 460.20 L370.09 460.20 L370.42 460.20 L370.75 460.20 L371.08 460.20 L371.41 460.20 L371.74 460.20 L372.07 460.20 L372.40 460.20 L372.73 460.20 L373.06 460.20 L373.39 460.20 L373.72 460.20 L374.05 460.20 L374.38 460.20 L374.71 460.20 L375.04 460.20 L375.37 460.20 L375.70 460.20 L376.03 460.20 L376.36 460.20 L376.69 460.20 L377.02 460.20 L377.35 460.20 L377.68 460.20 L378.01 460.20 L378.34 460.20 L378.67 460.20 L379.00 460.20 L379.33 460.20 L379.66 460.20 L379.99 460.20 L380.32 460.20 L380.65 460.20 L380.98 460.20 L381.31 460.20 L381.64 460.20 L381.97 460.20 L382.30 460.20 L382.63 460.20 L382.96 460.20 L383.29 460.20 L383.62 460.20 L383.95 460.20 L384.28 460.20 L384.61 460.20 L384.94 460.20 L385.27 460.20 L385.60 460.20 L385.93 460.20 L386.26 460.20 L386.59 460.19 L386.92 460.19 L387.25 460.18 L387.58 460.18 L387.91 460.17 L388.24 460.15 L388.57 460.12 L388.90 460.08 L389.23 460.02 L389.56 459.93 L389.89 459.80 L390.22 459.60 L390.55 459.32 L390.88 458.90 L391.21 458.30 L391.54 457.45 L391.87 456.28 L392.20 454.69 L392.53 452.61 L392.86 449.98 L393.19 446.81 L393.52 443.19 L393.85 439.33 L394.18 435.26 L394.51 430.37 L394.84 421.31 L395.17 408.77 L395.50 394.82 L395.83 386.10 L396.16 379.84 L396.49 376.30 L396.82 375.13 L397.15 375.53 L397.48 376.59 L397.81 377.42 L398.14 377.66 L398.47 377.97 L398.80 378.33 L399.13 378.72 L399.46 379.18 L399.79 379.78 L400.12 380.59 L400.45 381.72 L400.78 383.27 L401.11 386.12 L401.44 390.71 L401.77 396.20 L402.10 401.75 L402.43 406.52 L402.76 409.64 L403.09 410.33 L403.42 408.88 L403.75 406.01 L404.08 402.29 L404.41 398.27 L404.74 394.51 L405.07 391.53 L405.40 388.63 L405.73 385.55 L406.06 382.53 L406.39 379.82 L406.72 377.66 L407.05 376.31 L407.38 375.98 L407.71 376.15 L408.04 376.53 L408.37 377.11 L408.70 377.87 L409.03 378.80 L409.36 379.89 L409.69 381.12 L410.02 382.48 L410.35 383.95 L410.68 385.52 L411.01 387.53 L411.34 390.98 L411.67 395.33 L412.00 399.89 L412.33 404.00 L412.66 407.21 L412.99 410.46 L413.32 413.69 L413.65 416.59 L413.98 418.87 L414.31 420.20 L414.64 420.25 L414.97 418.59 L415.30 415.55 L415.63 411.61 L415.96 407.21 L416.29 402.84 L416.62 398.79 L416.95 394.03 L417.28 388.89 L417.61 384.17 L417.94 380.71 L418.27 378.52 L418.60 376.48 L418.93 374.59 L419.26 372.89 L419.59 371.43 L419.92 370.26 L420.25 369.41 L420.58 368.93 L420.91 368.87 L421.24 369.27 L421.57 370.04 L421.90 371.07 L422.23 372.23 L422.56 373.40 L422.89 374.48 L423.22 375.34 L423.55 375.87 L423.88 376.01 L424.21 375.91 L424.54 375.65 L424.87 375.28 L425.20 374.90 L425.53 374.63 L425.86 374.66 L426.19 375.21 L426.52 376.39 L426.85 376.71 L427.18 377.33 L427.51 379.96 L427.84 389.18 L428.17 400.95 L428.50 412.82 L428.83 423.83 L429.16 431.43 L429.49 436.14 L429.82 440.17 L430.15 443.95 L430.48 447.42 L430.81 450.45 L431.14 452.95 L431.47 454.92 L431.80 456.43 L432.13 457.55 L432.46 458.36 L432.79 458.94 L433.12 459.34 L433.45 459.62 L433.78 459.81 L434.11 459.94 L434.44 460.03 L434.77 460.08 L435.10 460.12 L435.43 460.15 L435.76 460.17 L436.09 460.18 L436.42 460.19 L436.75 460.19 L437.08 460.19 L437.41 460.20 L437.74 460.20 L438.07 460.20 L438.40 460.20 L438.73 460.20 L439.06 460.20 L439.39 460.20 L439.72 460.20 L440.05 460.20 L440.38 460.20 L440.71 460.20 L441.04 460.20 L441.37 460.20 L441.70 460.20 L442.03 460.20 L442.36 460.20 L442.69 460.20 L443.02 460.20 L443.35 460.20 L443.68 460.20 L444.01 460.20 L444.34 460.20 L444.67 460.20 L445.00 460.20 L445.33 460.20 L445.66 460.20 L445.99 460.20 L446.32 460.20 L446.65 460.20 L446.98 460.20 L447.31 460.20 L447.64 460.20 L447.97 460.20 L448.30 460.20 L448.63 460.20 L448.96 460.20 L449.29 460.20 L449.62 460.20 L449.95 460.20 L450.28 460.20 L450.61 460.20 L450.94 460.20 L451.27 460.20 L451.60 460.20 L451.93 460.20 L452.26 460.20 L452.59 460.20 L452.92 460.20 L453.25 460.20 L453.58 460.20 L453.91 460.20 L454.24 460.20 L454.57 460.20 L454.90 460.20 L455.23 460.20 L455.56 460.20 L455.89 460.20 L456.22 460.20 L456.55 460.20 L456.88 460.20 L457.21 460.20 L457.54 460.20 L457.87 460.20 L458.20 460.20 L458.53 460.20 L458.86 460.20 L459.19 460.20 L459.52 460.20 L459.85 460.20 L460.18 460.20 L460.51 460.20 L460.84 460.20 L461.17 460.20 L461.50 460.20 L461.83 460.20 L462.16 460.20 L462.49 460.20 L462.82 460.20 L463.15 460.20 L463.48 460.20 L463.81 460.20 L464.14 460.20 L464.47 460.20 L464.80 460.20 L465.13 460.20 L465.46 460.20 L465.79 460.20 L466.12 460.20 L466.45 460.20 L466.78 460.20 L467.11 460.20 L467.44 460.20 L467.77 460.20 L468.10 460.20 L468.43 460.20 L468.76 460.20 L469.09 460.20 L469.42 460.20 L469.75 460.20 L470.08 460.20 L470.41 460.20 L470.74 460.20 L471.07 460.20 L471.40 460.20 L471.73 460.20 L472.06 460.20 L472.39 460.20 L472.72 460.20 L473.05 460.20 L473.38 460.20 L473.71 460.20 L474.04 460.20 L474.37 460.20 L474.70 460.20 L475.03 460.20 L475.36 460.20 L475.69 460.20 L476.02 460.20 L476.35 460.20 L476.68 460.20 L477.01 460.20 L477.34 460.19 L477.67 460.19 L478.00 460.19 L478.33 460.18 L478.66 460.17 L478.99 460.16 L479.32 460.14 L479.65 460.12 L479.98 460.08 L480.31 460.03 L480.64 459.95 L480.97 459.84 L481.30 459.69 L481.63 459.48 L481.96 459.19 L482.29 458.79 L482.62 458.25 L482.95 457.53 L483.28 456.59 L483.61 455.39 L483.94 453.89 L484.27 452.06 L484.60 449.91 L484.93 447.43 L485.26 444.60 L485.59 441.39 L485.92 437.66 L486.25 433.27 L486.58 428.17 L486.91 422.66 L487.24 417.51 L487.57 412.96 L487.90 407.98 L488.23 402.42 L488.56 396.94 L488.89 391.53 L489.22 385.31 L489.55 382.93 L489.88 387.03 L490.21 393.38 L490.54 398.55 L490.87 404.13 L491.20 409.57 L491.53 414.29 L491.86 419.01 L492.19 424.31 L492.52 429.78 L492.85 434.67 L493.18 438.85 L493.51 442.41 L493.84 445.50 L494.17 448.21 L494.50 450.60 L494.83 452.65 L495.16 454.37 L495.49 455.78 L495.82 456.90 L496.15 457.77 L496.48 458.43 L496.81 458.92 L497.14 459.29 L497.47 459.55 L497.80 459.74 L498.13 459.88 L498.46 459.98 L498.79 460.04 L499.12 460.09 L499.45 460.12 L499.78 460.15 L500.11 460.16 L500.44 460.17 L500.77 460.18 L501.10 460.19 L501.43 460.19 L501.76 460.19 L502.09 460.20 L502.42 460.20 L502.75 460.20 L503.08 460.20 L503.41 460.20 L503.74 460.20 L504.07 460.20 L504.40 460.20 L504.73 460.20 L505.06 460.20 L505.39 460.20 L505.72 460.20 L506.05 460.20 L506.38 460.20 L506.71 460.20 L507.04 460.20 L507.37 460.20 L507.70 460.20 L508.03 460.20 L508.36 460.20 L508.69 460.20 L509.02 460.20 L509.35 460.20 L509.68 460.20 L510.01 460.20 L510.34 460.20 L510.67 460.20" stroke="#c6c6c6" stroke-width="1.0"/>
<path d="M32.50 460.20 L32.83 460.20 L33.16 460.20 L33.49 460.20 L33.82 460.20 L34.15 460.20 L34.48 460.20 L34.81 460.20 L35.14 460.20 L35.47 460.20 L35.80 460.20 L36.13 460.20 L36.46 460.20 L36.79 460.20 L37.12 460.20 L37.45 460.20 L37.78 460.20 L38.11 460.20 L38.44 460.20 L38.77 460.20 L39.10 460.20 L39.43 460.20 L39.76 460.20 L40.09 460.20 L40.42 460.20 L40.75 460.20 L41.08 460.20 L41.41 460.20 L41.74 460.20 L42.07 460.20 L42.40 460.20 L42.73 460.19 L43.06 460.19 L43.39 460.19 L43.72 460.19 L44.05 460.18 L44.38 460.17 L44.71 460.16 L45.04 460.15 L45.37 460.13 L45.70 460.10 L46.03 460.06 L46.36 460.00 L46.69 459.93 L47.02 459.83 L47.35 459.69 L47.68 459.51 L48.01 459.27 L48.34 458.95 L48.67 458.55 L49.00 458.04 L49.33 457.42 L49.66 456.66 L49.99 455.78 L50.32 454.76 L50.65 453.63 L50.98 452.40 L51.31 451.06 L51.64 449.59 L51.97 447.98 L52.30 446.67 L52.63 445.55 L52.96 444.60 L53.29 443.78 L53.62 443.01 L53.95 442.22 L54.28 441.38 L54.61 440.53 L54.94 439.68 L55.27 438.84 L55.60 438.02 L55.93 437.07 L56.26 436.02 L56.59 434.94 L56.92 433.96 L57.25 433.14 L57.58 432.33 L57.91 431.71 L58.24 431.51 L58.57 431.79 L58.90 432.39 L59.23 433.11 L59.56 433.92 L59.89 434.93 L60.22 436.02 L60.55 437.10 L60.88 438.27 L61.21 439.49 L61.54 440.67 L61.87 441.74 L62.20 442.72 L62.53 443.78 L62.86 444.90 L63.19 446.10 L63.52 447.36 L63.85 448.80 L64.18 450.21 L64.51 451.55 L64.84 452.80 L65.17 453.96 L65.50 455.01 L65.83 455.96 L66.16 456.78 L66.49 457.49 L66.82 458.08 L67.15 458.56 L67.48 458.95 L67.81 459.26 L68.14 459.49 L68.47 459.68 L68.80 459.81 L69.13 459.92 L69.46 459.99 L69.79 460.05 L70.12 460.09 L70.45 460.12 L70.78 460.14 L71.11 460.16 L71.44 460.17 L71.77 460.18 L72.10 460.18 L72.43 460.19 L72.76 460.19 L73.09 460.19 L73.42 460.20 L73.75 460.20 L74.08 460.20 L74.41 460.20 L74.74 460.20 L75.07 460.20 L75.40 460.20 L75.73 460.20 L76.06 460.20 L76.39 460.20 L76.72 460.20 L77.05 460.20 L77.38 460.20 L77.71 460.20 L78.04 460.20 L78.37 460.20 L78.70 460.20 L79.03 460.20 L79.36 460.20 L79.69 460.20 L80.02 460.20 L80.35 460.20 L80.68 460.20 L81.01 460.20 L81.34 460.20 L81.67 460.20 L82.00 460.20 L82.33 460.20 L82.66 460.20 L82.99 460.20 L83.32 460.20 L83.65 460.20 L83.98 460.20 L84.31 460.20 L84.64 460.20 L84.97 460.20 L85.30 460.20 L85.63 460.20 L85.96 460.20 L86.29 460.20 L86.62 460.20 L86.95 460.20 L87.28 460.20 L87.61 460.19 L87.94 460.19 L88.27 460.19 L88.60 460.18 L88.93 460.18 L89.26 460.17 L89.59 460.16 L89.92 460.14 L90.25 460.11 L90.58 460.07 L90.91 460.01 L91.24 459.93 L91.57 459.82 L91.90 459.67 L92.23 459.46 L92.56 459.18 L92.89 458.81 L93.22 458.33 L93.55 457.72 L93.88 456.96 L94.21 456.03 L94.54 454.93 L94.87 453.66 L95.20 452.22 L95.53 450.60 L95.86 448.82 L96.19 446.86 L96.52 444.78 L96.85 442.64 L97.18 440.57 L97.51 438.64 L97.84 436.92 L98.17 435.43 L98.50 434.14 L98.83 432.52 L99.16 430.87 L99.49 430.15 L99.82 430.87 L100.15 432.55 L100.48 434.61 L100.81 436.63 L101.14 438.43 L101.47 440.31 L101.80 442.16 L102.13 443.83 L102.46 445.27 L102.79 446.50 L103.12 447.56 L103.45 448.41 L103.78 449.01 L104.11 449.38 L104.44 449.53 L104.77 449.50 L105.10 449.32 L105.43 449.05 L105.76 448.79 L106.09 448.64 L106.42 448.71 L106.75 449.03 L107.08 449.57 L107.41 450.23 L107.74 450.94 L108.07 451.67 L108.40 452.37 L108.73 453.05 L109.06 453.64 L109.39 454.11 L109.72 454.41 L110.05 454.55 L110.38 454.50 L110.71 454.28 L111.04 453.89 L111.37 453.36 L111.70 452.73 L112.03 452.06 L112.36 451.39 L112.69 450.74 L113.02 450.16 L113.35 449.73 L113.68 449.56 L114.01 449.67 L114.34 450.01 L114.67 450.51 L115.00 451.11 L115.33 451.77 L115.66 452.46 L115.99 453.17 L116.32 453.89 L116.65 454.60 L116.98 455.27 L117.31 455.88 L117.64 456.44 L117.97 456.93 L118.30 457.34 L118.63 457.65 L118.96 457.86 L119.29 457.94 L119.62 457.89 L119.95 457.69 L120.28 457.31 L120.61 456.76 L120.94 456.02 L121.27 455.10 L121.60 454.02 L121.93 452.80 L122.26 451.44 L122.59 449.92 L122.92 448.21 L123.25 446.60 L123.58 445.21 L123.91 444.09 L124.24 443.26 L124.57 442.72 L124.90 442.40 L125.23 442.22 L125.56 442.10 L125.89 441.96 L126.22 441.77 L126.55 441.49 L126.88 441.07 L127.21 440.47 L127.54 439.73 L127.87 438.88 L128.20 437.95 L128.53 437.02 L128.86 436.16 L129.19 435.42 L129.52 434.67 L129.85 433.93 L130.18 433.26 L130.51 432.73 L130.84 432.41 L131.17 432.34 L131.50 432.39 L131.83 432.51 L132.16 432.69 L132.49 432.89 L132.82 433.10 L133.15 433.30 L133.48 433.48 L133.81 433.64 L134.14 433.82 L134.47 433.98 L134.80 434.13 L135.13 434.26 L135.46 434.35 L135.79 434.39 L136.12 434.37 L136.45 434.16 L136.78 433.79 L137.11 433.35 L137.44 432.95 L137.77 432.73 L138.10 432.81 L138.43 433.25 L138.76 433.93 L139.09 434.74 L139.42 435.61 L139.75 436.51 L140.08 437.60 L140.41 438.93 L140.74 440.49 L141.07 442.26 L141.40 444.17 L141.73 446.13 L142.06 448.03 L142.39 449.82 L142.72 451.45 L143.05 452.93 L143.38 454.26 L143.71 455.42 L144.04 456.42 L144.37 457.26 L144.70 457.94 L145.03 458.48 L145.36 458.89 L145.69 459.18 L146.02 459.38 L146.35 459.49 L146.68 459.51 L147.01 459.45 L147.34 459.30 L147.67 459.04 L148.00 458.65 L148.33 458.12 L148.66 457.43 L148.99 456.56 L149.32 455.51 L149.65 454.29 L149.98 452.91 L150.31 451.37 L150.64 449.63 L150.97 447.61 L151.30 445.70 L151.63 443.98 L151.96 442.49 L152.29 441.19 L152.62 439.92 L152.95 438.89 L153.28 438.21 L153.61 437.88 L153.94 437.91 L154.27 438.31 L154.60 439.06 L154.93 440.11 L155.26 441.35 L155.59 442.68 L155.92 444.21 L156.25 445.95 L156.58 447.88 L156.91 449.83 L157.24 451.53 L157.57 453.04 L157.90 454.40 L158.23 455.60 L158.56 456.62 L158.89 457.46 L159.22 458.12 L159.55 458.61 L159.88 458.95 L160.21 459.16 L160.54 459.24 L160.87 459.20 L161.20 459.04 L161.53 458.75 L161.86 458.33 L162.19 457.77 L162.52 457.06 L162.85 456.21 L163.18 455.22 L163.51 454.10 L163.84 452.86 L164.17 451.50 L164.50 450.01 L164.83 448.62 L165.16 447.34 L165.49 446.23 L165.82 445.27 L166.15 444.43 L166.48 443.77 L166.81 443.33 L167.14 443.19 L167.47 443.41 L167.80 443.91 L168.13 444.63 L168.46 445.49 L168.79 446.49 L169.12 447.65 L169.45 448.96 L169.78 450.39 L170.11 451.86 L170.44 453.19 L170.77 454.40 L171.10 455.49 L171.43 456.46 L171.76 457.30 L172.09 457.99 L172.42 458.55 L172.75 458.99 L173.08 459.32 L173.41 459.56 L173.74 459.73 L174.07 459.84 L174.40 459.91 L174.73 459.93 L175.06 459.91 L175.39 459.86 L175.72 459.77 L176.05 459.62 L176.38 459.41 L176.71 459.13 L177.04 458.75 L177.37 458.25 L177.70 457.62 L178.03 456.84 L178.36 455.91 L178.69 454.81 L179.02 453.57 L179.35 452.19 L179.68 450.66 L180.01 448.97 L180.34 447.08 L180.67 445.24 L181.00 443.73 L181.33 442.41 L181.66 441.26 L181.99 440.20 L182.32 439.13 L182.65 438.02 L182.98 436.89 L183.31 435.76 L183.64 434.70 L183.97 433.72 L184.30 432.61 L184.63 431.56 L184.96 430.97 L185.29 430.98 L185.62 431.21 L185.95 431.60 L186.28 432.06 L186.61 432.66 L186.94 433.44 L187.27 434.34 L187.60 435.27 L187.93 436.20 L188.26 437.26 L188.59 438.37 L188.92 439.42 L189.25 440.36 L189.58 441.17 L189.91 441.97 L190.24 442.85 L190.57 443.83 L190.90 444.94 L191.23 446.22 L191.56 447.82 L191.89 449.40 L192.22 450.90 L192.55 452.30 L192.88 453.59 L193.21 454.75 L193.54 455.80 L193.87 456.70 L194.20 457.48 L194.53 458.11 L194.86 458.63 L195.19 459.03 L195.52 459.34 L195.85 459.58 L196.18 459.75 L196.51 459.88 L196.84 459.97 L197.17 460.04 L197.50 460.08 L197.83 460.11 L198.16 460.13 L198.49 460.14 L198.82 460.14 L199.15 460.13 L199.48 460.11 L199.81 460.08 L200.14 460.03 L200.47 459.96 L200.80 459.85 L201.13 459.69 L201.46 459.48 L201.79 459.18 L202.12 458.78 L202.45 458.26 L202.78 457.60 L203.11 456.78 L203.44 455.81 L203.77 454.70 L204.10 453.45 L204.43 452.08 L204.76 450.57 L205.09 448.91 L205.42 447.09 L205.75 445.61 L206.08 444.55 L206.41 443.78 L206.74 443.19 L207.07 442.65 L207.40 442.07 L207.73 441.57 L208.06 441.11 L208.39 440.68 L208.72 440.25 L209.05 439.81 L209.38 439.33 L209.71 438.71 L210.04 437.91 L210.37 436.97 L210.70 435.94 L211.03 434.88 L211.36 433.88 L211.69 432.77 L212.02 431.50 L212.35 430.21 L212.68 429.10 L213.01 428.38 L213.34 428.34 L213.67 429.11 L214.00 430.41 L214.33 431.93 L214.66 433.41 L214.99 434.66 L215.32 435.58 L215.65 436.10 L215.98 436.21 L216.31 436.05 L216.64 435.67 L216.97 435.10 L217.30 434.37 L217.63 433.54 L217.96 432.65 L218.29 431.79 L218.62 431.00 L218.95 430.38 L219.28 429.88 L219.61 429.40 L219.94 428.92 L220.27 428.47 L220.60 428.04 L220.93 427.66 L221.26 427.34 L221.59 427.09 L221.92 426.93 L222.25 426.86 L222.58 427.12 L222.91 428.02 L223.24 429.38 L223.57 430.92 L223.90 432.43 L224.23 433.79 L224.56 435.05 L224.89 436.40 L225.22 437.65 L225.55 438.65 L225.88 439.32 L226.21 439.61 L226.54 439.54 L226.87 439.19 L227.20 438.58 L227.53 437.75 L227.86 436.74 L228.19 435.63 L228.52 434.50 L228.85 433.45 L229.18 432.54 L229.51 431.59 L229.84 430.61 L230.17 429.62 L230.50 428.68 L230.83 427.81 L231.16 427.12 L231.49 426.65 L231.82 426.43 L232.15 426.67 L232.48 427.56 L232.81 428.83 L233.14 430.03 L233.47 430.92 L233.80 431.69 L234.13 432.47 L234.46 433.19 L234.79 433.82 L235.12 434.33 L235.45 434.71 L235.78 435.11 L236.11 435.57 L236.44 436.13 L236.77 436.83 L237.10 437.47 L237.43 437.92 L237.76 438.44 L238.09 439.36 L238.42 440.90 L238.75 443.71 L239.08 446.36 L239.41 448.59 L239.74 450.51 L240.07 452.23 L240.40 453.78 L240.73 455.15 L241.06 456.32 L241.39 457.29 L241.72 458.06 L242.05 458.65 L242.38 459.10 L242.71 459.43 L243.04 459.67 L243.37 459.84 L243.70 459.95 L244.03 460.03 L244.36 460.09 L244.69 460.13 L245.02 460.15 L245.35 460.17 L245.68 460.18 L246.01 460.19 L246.34 460.19 L246.67 460.19 L247.00 460.20 L247.33 460.20 L247.66 460.20 L247.99 460.20 L248.32 460.20 L248.65 460.20 L248.98 460.20 L249.31 460.20 L249.64 460.20 L249.97 460.20 L250.30 460.20 L250.63 460.20 L250.96 460.20 L251.29 460.20 L251.62 460.20 L251.95 460.20 L252.28 460.20 L252.61 460.20 L252.94 460.20 L253.27 460.20 L253.60 460.20 L253.93 460.20 L254.26 460.20 L254.59 460.20 L254.92 460.20 L255.25 460.20 L255.58 460.20 L255.91 460.20 L256.24 460.20 L256.57 460.20 L256.90 460.20 L257.23 460.20 L257.56 460.20 L257.89 460.20 L258.22 460.20 L258.55 460.20 L258.88 460.20 L259.21 460.20 L259.54 460.20 L259.87 460.20 L260.20 460.20 L260.53 460.20 L260.86 460.20 L261.19 460.20 L261.52 460.20 L261.85 460.20 L262.18 460.20 L262.51 460.20 L262.84 460.20 L263.17 460.20 L263.50 460.20 L263.83 460.20 L264.16 460.20 L264.49 460.20 L264.82 460.20 L265.15 460.20 L265.48 460.20 L265.81 460.20 L266.14 460.20 L266.47 460.20 L266.80 460.20 L267.13 460.20 L267.46 460.20 L267.79 460.20 L268.12 460.20 L268.45 460.20 L268.78 460.20 L269.11 460.20 L269.44 460.20 L269.77 460.20 L270.10 460.20 L270.43 460.20 L270.76 460.20 L271.09 460.20 L271.42 460.20 L271.75 460.20 L272.08 460.20 L272.41 460.20 L272.74 460.20 L273.07 460.20 L273.40 460.20 L273.73 460.20 L274.06 460.19 L274.39 460.19 L274.72 460.19 L275.05 460.18 L275.38 460.17 L275.71 460.15 L276.04 460.13 L276.37 460.10 L276.70 460.06 L277.03 459.99 L277.36 459.90 L277.69 459.77 L278.02 459.60 L278.35 459.36 L278.68 459.04 L279.01 458.62 L279.34 458.09 L279.67 457.43 L280.00 456.64 L280.33 455.72 L280.66 454.67 L280.99 453.51 L281.32 452.24 L281.65 450.85 L281.98 449.32 L282.31 447.98 L282.64 446.79 L282.97 445.73 L283.30 444.77 L283.63 443.85 L283.96 442.92 L284.29 441.99 L284.62 441.07 L284.95 440.18 L285.28 439.37 L285.61 438.68 L285.94 438.08 L286.27 437.52 L286.60 437.03 L286.93 436.63 L287.26 436.36 L287.59 436.27 L287.92 436.47 L288.25 436.97 L288.58 437.62 L288.91 438.30 L289.24 438.90 L289.57 439.34 L289.90 439.56 L290.23 439.51 L290.56 439.18 L290.89 438.59 L291.22 437.78 L291.55 436.76 L291.88 435.58 L292.21 434.31 L292.54 433.02 L292.87 431.80 L293.20 430.77 L293.53 430.04 L293.86 429.73 L294.19 430.02 L294.52 430.92 L294.85 432.24 L295.18 433.78 L295.51 435.38 L295.84 436.93 L296.17 438.37 L296.50 439.67 L296.83 440.90 L297.16 442.14 L297.49 443.40 L297.82 444.70 L298.15 446.04 L298.48 447.42 L298.81 448.86 L299.14 450.21 L299.47 451.32 L299.80 452.16 L300.13 452.77 L300.46 453.16 L300.79 453.32 L301.12 453.28 L301.45 453.05 L301.78 452.68 L302.11 452.24 L302.44 451.77 L302.77 451.33 L303.10 450.94 L303.43 450.58 L303.76 450.26 L304.09 449.97 L304.42 449.69 L304.75 449.41 L305.08 449.12 L305.41 448.78 L305.74 448.39 L306.07 447.93 L306.40 447.39 L306.73 446.73 L307.06 445.93 L307.39 445.00 L307.72 443.95 L308.05 442.80 L308.38 441.58 L308.71 440.34 L309.04 439.13 L309.37 438.02 L309.70 437.08 L310.03 436.38 L310.36 435.95 L310.69 435.61 L311.02 435.32 L311.35 435.08 L311.68 434.88 L312.01 434.71 L312.34 434.56 L312.67 434.43 L313.00 434.31 L313.33 434.20 L313.66 434.10 L313.99 434.00 L314.32 433.91 L314.65 433.81 L314.98 433.72 L315.31 433.64 L315.64 433.57 L315.97 433.51 L316.30 433.46 L316.63 433.44 L316.96 433.44 L317.29 433.47 L317.62 433.55 L317.95 433.81 L318.28 434.29 L318.61 434.95 L318.94 435.75 L319.27 436.67 L319.60 437.68 L319.93 438.75 L320.26 439.86 L320.59 441.00 L320.92 442.15 L321.25 443.32 L321.58 444.54 L321.91 445.86 L322.24 447.24 L322.57 448.61 L322.90 449.92 L323.23 451.14 L323.56 452.22 L323.89 453.13 L324.22 453.86 L324.55 454.38 L324.88 454.68 L325.21 454.75 L325.54 454.60 L325.87 454.24 L326.20 453.69 L326.53 452.97 L326.86 452.10 L327.19 451.13 L327.52 450.07 L327.85 448.96 L328.18 447.84 L328.51 446.74 L328.84 445.69 L329.17 444.66 L329.50 443.63 L329.83 442.59 L330.16 441.56 L330.49 440.53 L330.82 439.52 L331.15 438.53 L331.48 437.59 L331.81 436.70 L332.14 435.89 L332.47 435.17 L332.80 434.56 L333.13 434.08 L333.46 433.75 L333.79 433.58 L334.12 433.60 L334.45 433.79 L334.78 434.10 L335.11 434.50 L335.44 434.94 L335.77 435.36 L336.10 435.74 L336.43 436.03 L336.76 436.21 L337.09 436.24 L337.42 436.08 L337.75 435.71 L338.08 435.16 L338.41 434.45 L338.74 433.61 L339.07 432.69 L339.40 431.72 L339.73 430.77 L340.06 429.92 L340.39 429.26 L340.72 428.91 L341.05 428.96 L341.38 429.38 L341.71 430.12 L342.04 431.16 L342.37 432.49 L342.70 433.45 L343.03 434.45 L343.36 436.16 L343.69 439.78 L344.02 443.42 L344.35 446.24 L344.68 448.57 L345.01 450.61 L345.34 452.45 L345.67 454.08 L346.00 455.47 L346.33 456.63 L346.66 457.55 L346.99 458.27 L347.32 458.81 L347.65 459.22 L347.98 459.51 L348.31 459.72 L348.64 459.87 L348.97 459.97 L349.30 460.04 L349.63 460.09 L349.96 460.13 L350.29 460.15 L350.62 460.17 L350.95 460.18 L351.28 460.18 L351.61 460.19 L351.94 460.19 L352.27 460.20 L352.60 460.20 L352.93 460.20 L353.26 460.20 L353.59 460.20 L353.92 460.20 L354.25 460.20 L354.58 460.20 L354.91 460.20 L355.24 460.20 L355.57 460.20 L355.90 460.20 L356.23 460.20 L356.56 460.20 L356.89 460.20 L357.22 460.20 L357.55 460.20 L357.88 460.20 L358.21 460.20 L358.54 460.20 L358.87 460.20 L359.20 460.20 L359.53 460.20 L359.86 460.20 L360.19 460.20 L360.52 460.20 L360.85 460.20 L361.18 460.20 L361.51 460.20 L361.84 460.20 L362.17 460.20 L362.50 460.20 L362.83 460.20 L363.16 460.20 L363.49 460.20 L363.82 460.20 L364.15 460.20 L364.48 460.20 L364.81 460.20 L365.14 460.20 L365.47 460.20 L365.80 460.20 L366.13 460.20 L366.46 460.20 L366.79 460.20 L367.12 460.20 L367.45 460.20 L367.78 460.20 L368.11 460.20 L368.44 460.20 L368.77 460.20 L369.10 460.20 L369.43 460.20 L369.76 460.20 L370.09 460.20 L370.42 460.20 L370.75 460.20 L371.08 460.20 L371.41 460.20 L371.74 460.20 L372.07 460.20 L372.40 460.20 L372.73 460.20 L373.06 460.20 L373.39 460.20 L373.72 460.20 L374.05 460.20 L374.38 460.20 L374.71 460.20 L375.04 460.20 L375.37 460.20 L375.70 460.20 L376.03 460.20 L376.36 460.20 L376.69 460.20 L377.02 460.20 L377.35 460.20 L377.68 460.20 L378.01 460.20 L378.34 460.20 L378.67 460.20 L379.00 460.20 L379.33 460.20 L379.66 460.20 L379.99 460.20 L380.32 460.20 L380.65 460.20 L380.98 460.20 L381.31 460.20 L381.64 460.20 L381.97 460.20 L382.30 460.20 L382.63 460.20 L382.96 460.20 L383.29 460.20 L383.62 460.20 L383.95 460.20 L384.28 460.20 L384.61 460.20 L384.94 460.20 L385.27 460.20 L385.60 460.20 L385.93 460.20 L386.26 460.20 L386.59 460.20 L386.92 460.20 L387.25 460.19 L387.58 460.19 L387.91 460.19 L388.24 460.18 L388.57 460.17 L388.90 460.16 L389.23 460.14 L389.56 460.11 L389.89 460.07 L390.22 460.00 L390.55 459.91 L390.88 459.77 L391.21 459.57 L391.54 459.28 L391.87 458.89 L392.20 458.35 L392.53 457.63 L392.86 456.71 L393.19 455.54 L393.52 454.13 L393.85 452.49 L394.18 450.63 L394.51 448.56 L394.84 446.20 L395.17 443.34 L395.50 439.71 L395.83 436.64 L396.16 434.09 L396.49 432.38 L396.82 431.55 L397.15 431.41 L397.48 431.68 L397.81 432.11 L398.14 432.56 L398.47 433.06 L398.80 433.58 L399.13 434.13 L399.46 434.72 L399.79 435.35 L400.12 436.06 L400.45 436.84 L400.78 437.64 L401.11 438.36 L401.44 438.95 L401.77 439.34 L402.10 439.52 L402.43 439.43 L402.76 439.10 L403.09 438.54 L403.42 437.78 L403.75 436.86 L404.08 435.83 L404.41 434.76 L404.74 433.73 L405.07 432.82 L405.40 431.90 L405.73 430.92 L406.06 429.91 L406.39 428.92 L406.72 427.99 L407.05 427.21 L407.38 426.64 L407.71 426.31 L408.04 426.29 L408.37 426.62 L408.70 427.21 L409.03 427.98 L409.36 428.81 L409.69 429.59 L410.02 430.26 L410.35 430.84 L410.68 431.40 L411.01 431.97 L411.34 432.54 L411.67 433.14 L412.00 433.76 L412.33 434.44 L412.66 435.22 L412.99 436.08 L413.32 436.93 L413.65 437.73 L413.98 438.42 L414.31 438.96 L414.64 439.31 L414.97 439.44 L415.30 439.31 L415.63 438.90 L415.96 438.21 L416.29 437.28 L416.62 436.18 L416.95 434.96 L417.28 433.73 L417.61 432.58 L417.94 431.24 L418.27 429.73 L418.60 428.22 L418.93 426.99 L419.26 426.33 L419.59 426.30 L419.92 426.52 L420.25 426.89 L420.58 427.36 L420.91 427.87 L421.24 428.34 L421.57 428.74 L421.90 429.00 L422.23 429.09 L422.56 429.04 L422.89 428.91 L423.22 428.70 L423.55 428.43 L423.88 428.12 L424.21 427.80 L424.54 427.47 L424.87 427.04 L425.20 426.46 L425.53 425.82 L425.86 425.23 L426.19 424.82 L426.52 424.73 L426.85 424.85 L427.18 425.45 L427.51 426.93 L427.84 431.43 L428.17 436.37 L428.50 440.49 L428.83 443.83 L429.16 446.61 L429.49 449.02 L429.82 451.18 L430.15 453.09 L430.48 454.73 L430.81 456.08 L431.14 457.16 L431.47 458.00 L431.80 458.63 L432.13 459.10 L432.46 459.44 L432.79 459.68 L433.12 459.84 L433.45 459.96 L433.78 460.04 L434.11 460.09 L434.44 460.13 L434.77 460.15 L435.10 460.17 L435.43 460.18 L435.76 460.19 L436.09 460.19 L436.42 460.19 L436.75 460.20 L437.08 460.20 L437.41 460.20 L437.74 460.20 L438.07 460.20 L438.40 460.20 L438.73 460.20 L439.06 460.20 L439.39 460.20 L439.72 460.20 L440.05 460.20 L440.38 460.20 L440.71 460.20 L441.04 460.20 L441.37 460.20 L441.70 460.20 L442.03 460.20 L442.36 460.20 L442.69 460.20 L443.02 460.20 L443.35 460.20 L443.68 460.20 L444.01 460.20 L444.34 460.20 L444.67 460.20 L445.00 460.20 L445.33 460.20 L445.66 460.20 L445.99 460.20 L446.32 460.20 L446.65 460.20 L446.98 460.20 L447.31 460.20 L447.64 460.20 L447.97 460.20 L448.30 460.20 L448.63 460.20 L448.96 460.20 L449.29 460.20 L449.62 460.20 L449.95 460.20 L450.28 460.20 L450.61 460.20 L450.94 460.20 L451.27 460.20 L451.60 460.20 L451.93 460.20 L452.26 460.20 L452.59 460.20 L452.92 460.20 L453.25 460.20 L453.58 460.20 L453.91 460.20 L454.24 460.20 L454.57 460.20 L454.90 460.20 L455.23 460.20 L455.56 460.20 L455.89 460.20 L456.22 460.20 L456.55 460.20 L456.88 460.20 L457.21 460.20 L457.54 460.20 L457.87 460.20 L458.20 460.20 L458.53 460.20 L458.86 460.20 L459.19 460.20 L459.52 460.20 L459.85 460.20 L460.18 460.20 L460.51 460.20 L460.84 460.20 L461.17 460.20 L461.50 460.20 L461.83 460.20 L462.16 460.20 L462.49 460.20 L462.82 460.20 L463.15 460.20 L463.48 460.20 L463.81 460.20 L464.14 460.20 L464.47 460.20 L464.80 460.20 L465.13 460.20 L465.46 460.20 L465.79 460.20 L466.12 460.20 L466.45 460.20 L466.78 460.20 L467.11 460.20 L467.44 460.20 L467.77 460.20 L468.10 460.20 L468.43 460.20 L468.76 460.20 L469.09 460.20 L469.42 460.20 L469.75 460.20 L470.08 460.20 L470.41 460.20 L470.74 460.20 L471.07 460.20 L471.40 460.20 L471.73 460.20 L472.06 460.20 L472.39 460.20 L472.72 460.20 L473.05 460.20 L473.38 460.20 L473.71 460.20 L474.04 460.20 L474.37 460.20 L474.70 460.20 L475.03 460.20 L475.36 460.20 L475.69 460.20 L476.02 460.20 L476.35 460.20 L476.68 460.20 L477.01 460.20 L477.34 460.20 L477.67 460.20 L478.00 460.19 L478.33 460.19 L478.66 460.19 L478.99 460.18 L479.32 460.17 L479.65 460.16 L479.98 460.15 L480.31 460.12 L480.64 460.09 L480.97 460.04 L481.30 459.97 L481.63 459.88 L481.96 459.75 L482.29 459.57 L482.62 459.33 L482.95 459.01 L483.28 458.59 L483.61 458.05 L483.94 457.36 L484.27 456.52 L484.60 455.51 L484.93 454.32 L485.26 452.95 L485.59 451.41 L485.92 449.68 L486.25 447.78 L486.58 445.71 L486.91 443.54 L487.24 441.36 L487.57 439.31 L487.90 437.21 L488.23 434.97 L488.56 432.72 L488.89 430.43 L489.22 427.66 L489.55 426.73 L489.88 428.46 L490.21 431.21 L490.54 433.39 L490.87 435.66 L491.20 437.86 L491.53 439.92 L491.86 442.01 L492.19 444.20 L492.52 446.35 L492.85 448.37 L493.18 450.23 L493.51 451.90 L493.84 453.39 L494.17 454.70 L494.50 455.83 L494.83 456.79 L495.16 457.58 L495.49 458.22 L495.82 458.73 L496.15 459.12 L496.48 459.41 L496.81 459.63 L497.14 459.79 L497.47 459.91 L497.80 460.00 L498.13 460.06 L498.46 460.10 L498.79 460.13 L499.12 460.15 L499.45 460.17 L499.78 460.18 L500.11 460.18 L500.44 460.19 L500.77 460.19 L501.10 460.19 L501.43 460.20 L501.76 460.20 L502.09 460.20 L502.42 460.20 L502.75 460.20 L503.08 460.20 L503.41 460.20 L503.74 460.20 L504.07 460.20 L504.40 460.20 L504.73 460.20 L505.06 460.20 L505.39 460.20 L505.72 460.20 L506.05 460.20 L506.38 460.20 L506.71 460.20 L507.04 460.20 L507.37 460.20 L507.70 460.20 L508.03 460.20 L508.36 460.20 L508.69 460.20 L509.02 460.20 L509.35 460.20 L509.68 460.20 L510.01 460.20 L510.34 460.20 L510.67 460.20" stroke="#c6c6c6" stroke-width="1.0"/>
<g clip-path="url(#cc)">
<path d="M50.65 453.41 L50.98 451.86 L51.31 451.55 L51.64 448.86 L51.97 448.02 L52.30 447.24 L52.63 445.81 L52.96 444.90 L53.29 442.87 L53.62 442.95 L53.95 443.31 L54.28 440.81 L54.61 440.54 L54.94 438.78 L55.27 440.19 L55.60 436.88 L55.93 435.80 L56.26 437.68 L56.59 435.02 L56.92 435.35 L57.25 433.03 L57.58 433.94 L57.91 430.17 L58.24 432.78 L58.57 431.12 L58.90 431.79 L59.23 433.79 L59.56 434.97 L59.89 433.46 L60.22 437.58 L60.55 437.90 L60.88 438.80 L61.21 439.25 L61.54 441.03 L61.87 442.75 L62.20 442.55 L62.53 443.26 L62.86 444.47 L63.19 446.12 L63.52 447.71 L63.85 449.58 L64.18 450.16 L64.51 451.39 L64.84 452.86 L65.17 453.56 L65.50 455.23 M94.87 453.43 L95.20 451.94 L95.53 450.16 L95.86 448.84 L96.19 447.38 L96.52 444.49 L96.85 441.63 L97.18 441.09 L97.51 440.09 L97.84 437.94 L98.17 433.93 L98.50 435.94 L98.83 434.25 L99.16 432.52 L99.49 428.50 L99.82 431.35 L100.15 431.81 L100.48 433.87 L100.81 436.85 L101.14 437.72 L101.47 440.42 L101.80 442.05 L102.13 444.27 L102.46 446.31 L102.79 446.32 L103.12 447.98 L103.45 448.78 L103.78 448.42 L104.11 449.59 L104.44 450.13 L104.77 449.30 L105.10 449.26 L105.43 449.74 L105.76 449.03 L106.09 448.46 L106.42 449.06 L106.75 448.27 L107.08 449.12 L107.41 450.22 L107.74 450.40 L108.07 452.22 L108.40 452.67 L108.73 452.63 L109.06 453.63 L109.39 454.39 M111.04 454.30 L111.37 453.45 L111.70 453.23 L112.03 452.54 L112.36 451.22 L112.69 450.82 L113.02 450.74 L113.35 449.18 L113.68 449.75 L114.01 449.10 L114.34 449.85 L114.67 450.35 L115.00 451.21 L115.33 451.57 L115.66 452.73 L115.99 453.41 L116.32 453.56 L116.65 454.83 M121.93 453.08 L122.26 451.78 L122.59 449.56 L122.92 447.66 L123.25 447.12 L123.58 445.83 L123.91 444.66 L124.24 444.12 L124.57 442.91 L124.90 442.40 L125.23 441.90 L125.56 443.22 L125.89 442.75 L126.22 442.76 L126.55 442.10 L126.88 441.91 L127.21 439.27 L127.54 440.10 L127.87 439.95 L128.20 437.43 L128.53 435.48 L128.86 435.17 L129.19 434.91 L129.52 435.11 L129.85 434.29 L130.18 434.01 L130.51 431.55 L130.84 431.23 L131.17 432.38 L131.50 430.98 L131.83 431.92 L132.16 431.97 L132.49 433.77 L132.82 434.08 L133.15 434.33 L133.48 431.94 L133.81 432.53 L134.14 432.34 L134.47 432.80 L134.80 433.02 L135.13 434.49 L135.46 433.39 L135.79 435.60 L136.12 433.81 L136.45 435.83 L136.78 432.07 L137.11 431.92 L137.44 434.23 L137.77 431.69 L138.10 431.57 L138.43 434.98 L138.76 433.68 L139.09 435.02 L139.42 435.20 L139.75 435.23 L140.08 436.90 L140.41 439.79 L140.74 440.34 L141.07 442.10 L141.40 445.27 L141.73 446.85 L142.06 448.27 L142.39 450.28 L142.72 451.77 L143.05 452.75 L143.38 453.87 M149.98 452.77 L150.31 451.46 L150.64 449.72 L150.97 447.91 L151.30 446.36 L151.63 444.04 L151.96 443.10 L152.29 440.14 L152.62 440.83 L152.95 437.50 L153.28 437.10 L153.61 438.25 L153.94 437.06 L154.27 438.07 L154.60 439.16 L154.93 439.23 L155.26 440.48 L155.59 443.41 L155.92 443.30 L156.25 446.89 L156.58 448.73 L156.91 449.85 L157.24 451.77 L157.57 453.12 L157.90 454.42 M163.84 452.77 L164.17 451.74 L164.50 449.57 L164.83 448.45 L165.16 448.01 L165.49 446.39 L165.82 445.29 L166.15 443.45 L166.48 444.18 L166.81 443.45 L167.14 442.06 L167.47 443.58 L167.80 443.16 L168.13 445.51 L168.46 445.71 L168.79 447.09 L169.12 446.97 L169.45 448.87 L169.78 450.78 L170.11 452.33 L170.44 453.26 L170.77 454.73 M179.02 453.45 L179.35 452.34 L179.68 450.04 L180.01 448.51 L180.34 446.31 L180.67 445.03 L181.00 443.14 L181.33 441.29 L181.66 442.50 L181.99 439.99 L182.32 440.05 L182.65 437.11 L182.98 437.76 L183.31 434.93 L183.64 435.29 L183.97 433.16 L184.30 431.91 L184.63 429.92 L184.96 429.45 L185.29 431.23 L185.62 430.45 L185.95 432.87 L186.28 433.65 L186.61 431.83 L186.94 431.92 L187.27 433.45 L187.60 435.21 L187.93 435.77 L188.26 436.52 L188.59 438.16 L188.92 439.82 L189.25 439.39 L189.58 441.51 L189.91 440.94 L190.24 442.12 L190.57 443.16 L190.90 444.23 L191.23 445.26 L191.56 446.97 L191.89 449.40 L192.22 451.06 L192.55 452.04 L192.88 453.15 L193.21 454.65 M204.10 453.31 L204.43 452.04 L204.76 450.24 L205.09 448.42 L205.42 448.00 L205.75 444.72 L206.08 443.72 L206.41 442.78 L206.74 442.55 L207.07 442.94 L207.40 442.71 L207.73 440.49 L208.06 441.32 L208.39 440.71 L208.72 439.70 L209.05 439.27 L209.38 438.77 L209.71 438.34 L210.04 437.88 L210.37 436.10 L210.70 436.29 L211.03 435.72 L211.36 432.37 L211.69 431.44 L212.02 430.62 L212.35 431.61 L212.68 431.07 L213.01 426.50 L213.34 426.37 L213.67 430.10 L214.00 429.87 L214.33 433.84 L214.66 433.81 L214.99 433.93 L215.32 436.06 L215.65 435.07 L215.98 434.82 L216.31 437.28 L216.64 435.03 L216.97 435.53 L217.30 435.55 L217.63 434.10 L217.96 432.72 L218.29 430.21 L218.62 429.92 L218.95 432.44 L219.28 431.77 L219.61 427.27 L219.94 428.67 L220.27 427.98 L220.60 428.71 L220.93 426.15 L221.26 427.08 L221.59 426.66 L221.92 428.10 L222.25 425.57 L222.58 428.44 L222.91 429.66 L223.24 428.96 L223.57 429.56 L223.90 433.24 L224.23 434.52 L224.56 436.28 L224.89 436.06 L225.22 436.79 L225.55 439.78 L225.88 439.21 L226.21 439.49 L226.54 440.68 L226.87 439.10 L227.20 439.27 L227.53 438.70 L227.86 435.15 L228.19 437.04 L228.52 435.07 L228.85 433.01 L229.18 432.91 L229.51 433.53 L229.84 429.09 L230.17 430.74 L230.50 429.06 L230.83 425.96 L231.16 424.95 L231.49 424.70 L231.82 426.85 L232.15 425.52 L232.48 425.97 L232.81 430.16 L233.14 428.05 L233.47 432.55 L233.80 431.07 L234.13 433.48 L234.46 434.27 L234.79 435.16 L235.12 432.73 L235.45 436.04 L235.78 433.66 L236.11 436.72 L236.44 436.70 L236.77 437.77 L237.10 435.92 L237.43 439.19 L237.76 437.34 L238.09 439.94 L238.42 439.68 L238.75 443.13 L239.08 446.82 L239.41 448.57 L239.74 450.97 L240.07 452.33 L240.40 454.21 L240.73 455.02 M280.99 453.67 L281.32 452.65 L281.65 451.16 L281.98 449.20 L282.31 448.33 L282.64 446.47 L282.97 444.92 L283.30 444.61 L283.63 444.93 L283.96 441.80 L284.29 442.76 L284.62 441.48 L284.95 440.11 L285.28 439.02 L285.61 439.15 L285.94 438.27 L286.27 437.12 L286.60 437.17 L286.93 437.34 L287.26 436.66 L287.59 436.66 L287.92 437.16 L288.25 436.64 L288.58 437.58 L288.91 438.57 L289.24 438.28 L289.57 438.43 L289.90 439.13 L290.23 439.97 L290.56 437.89 L290.89 439.79 L291.22 436.82 L291.55 437.01 L291.88 435.93 L292.21 433.06 L292.54 432.43 L292.87 429.92 L293.20 429.21 L293.53 431.66 L293.86 429.72 L294.19 428.89 L294.52 432.63 L294.85 432.07 L295.18 431.96 L295.51 436.29 L295.84 438.18 L296.17 439.02 L296.50 440.11 L296.83 441.48 L297.16 442.31 L297.49 442.61 L297.82 444.66 L298.15 445.86 L298.48 448.12 L298.81 449.55 L299.14 449.58 L299.47 451.51 L299.80 451.66 L300.13 452.94 L300.46 453.02 L300.79 453.17 L301.12 453.67 L301.45 453.48 L301.78 452.75 L302.11 452.65 L302.44 452.01 L302.77 451.71 L303.10 451.18 L303.43 450.64 L303.76 450.53 L304.09 450.21 L304.42 449.71 L304.75 449.14 L305.08 449.83 L305.41 447.98 L305.74 448.50 L306.07 447.20 L306.40 448.27 L306.73 447.57 L307.06 446.73 L307.39 444.12 L307.72 444.15 L308.05 441.95 L308.38 441.07 L308.71 441.49 L309.04 439.54 L309.37 438.55 L309.70 437.23 L310.03 435.53 L310.36 437.36 L310.69 434.14 L311.02 435.41 L311.35 435.56 L311.68 434.18 L312.01 435.51 L312.34 433.80 L312.67 434.73 L313.00 434.39 L313.33 435.33 L313.66 435.19 L313.99 432.68 L314.32 433.63 L314.65 434.10 L314.98 432.70 L315.31 432.11 L315.64 434.84 L315.97 431.64 L316.30 435.28 L316.63 433.01 L316.96 434.32 L317.29 434.39 L317.62 433.57 L317.95 433.43 L318.28 434.52 L318.61 434.19 L318.94 434.21 L319.27 437.76 L319.60 438.51 L319.93 438.42 L320.26 440.11 L320.59 441.49 L320.92 442.14 L321.25 442.85 L321.58 443.64 L321.91 444.98 L322.24 446.66 L322.57 448.85 L322.90 449.37 L323.23 450.87 L323.56 452.58 L323.89 452.69 L324.22 454.08 L324.55 454.23 M326.20 454.09 L326.53 453.44 L326.86 452.45 L327.19 451.03 L327.52 450.18 L327.85 449.62 L328.18 448.36 L328.51 446.59 L328.84 445.88 L329.17 444.09 L329.50 443.70 L329.83 441.66 L330.16 440.89 L330.49 440.55 L330.82 439.93 L331.15 439.40 L331.48 438.25 L331.81 437.18 L332.14 436.36 L332.47 436.29 L332.80 434.65 L333.13 435.50 L333.46 432.38 L333.79 433.39 L334.12 435.11 L334.45 434.42 L334.78 435.00 L335.11 435.74 L335.44 435.01 L335.77 436.46 L336.10 436.93 L336.43 435.35 L336.76 436.45 L337.09 435.66 L337.42 436.18 L337.75 435.70 L338.08 435.83 L338.41 434.72 L338.74 433.68 L339.07 433.29 L339.40 430.42 L339.73 431.82 L340.06 431.11 L340.39 429.94 L340.72 427.66 L341.05 427.44 L341.38 429.10 L341.71 430.70 L342.04 430.56 L342.37 431.23 L342.70 434.41 L343.03 433.84 L343.36 435.45 L343.69 440.10 L344.02 444.26 L344.35 446.03 L344.68 449.04 L345.01 450.79 L345.34 452.40 L345.67 453.68 M393.85 452.86 L394.18 450.59 L394.51 449.05 L394.84 446.47 L395.17 443.76 L395.50 438.80 L395.83 437.52 L396.16 433.95 L396.49 432.04 L396.82 432.23 L397.15 429.68 L397.48 432.35 L397.81 432.79 L398.14 431.82 L398.47 433.11 L398.80 432.75 L399.13 435.40 L399.46 435.97 L399.79 434.53 L400.12 436.43 L400.45 435.68 L400.78 438.48 L401.11 439.16 L401.44 437.87 L401.77 439.75 L402.10 440.65 L402.43 440.25 L402.76 438.30 L403.09 439.25 L403.42 437.60 L403.75 435.77 L404.08 435.45 L404.41 433.86 L404.74 431.96 L405.07 433.59 L405.40 430.41 L405.73 430.71 L406.06 431.18 L406.39 430.53 L406.72 428.77 L407.05 428.88 L407.38 425.36 L407.71 426.04 L408.04 428.46 L408.37 424.84 L408.70 426.77 L409.03 428.24 L409.36 430.39 L409.69 429.72 L410.02 428.51 L410.35 430.49 L410.68 431.57 L411.01 431.54 L411.34 432.34 L411.67 432.67 L412.00 434.88 L412.33 435.70 L412.66 436.93 L412.99 434.95 L413.32 438.55 L413.65 438.50 L413.98 438.16 L414.31 438.96 L414.64 438.13 L414.97 440.27 L415.30 440.44 L415.63 439.91 L415.96 438.22 L416.29 437.95 L416.62 436.33 L416.95 434.29 L417.28 434.39 L417.61 431.94 L417.94 433.19 L418.27 429.53 L418.60 426.39 L418.93 424.97 L419.26 425.99 L419.59 424.00 L419.92 427.77 L420.25 427.84 L420.58 427.60 L420.91 427.83 L421.24 426.92 L421.57 428.97 L421.90 430.97 L422.23 428.22 L422.56 430.25 L422.89 427.24 L423.22 429.97 L423.55 429.34 L423.88 429.75 L424.21 428.69 L424.54 427.01 L424.87 428.12 L425.20 428.59 L425.53 425.41 L425.86 424.08 L426.19 426.76 L426.52 425.11 L426.85 426.98 L427.18 427.80 L427.51 427.51 L427.84 432.29 M428.17 435.12 L428.50 441.84 L428.83 443.50 L429.16 446.16 L429.49 449.15 L429.82 451.18 L430.15 453.34 L430.48 454.92 M485.26 453.10 L485.59 451.12 L485.92 450.18 L486.25 446.91 L486.58 446.24 L486.91 444.07 L487.24 442.36 L487.57 439.62 L487.90 437.62 L488.23 434.33 L488.56 431.20 L488.89 431.48 L489.22 426.25 L489.55 427.63 L489.88 428.87 L490.21 432.72 L490.54 431.92 L490.87 436.09 L491.20 437.23 L491.53 441.26 L491.86 441.51 L492.19 444.81 L492.52 446.44 L492.85 448.09 L493.18 450.69 L493.51 451.86 L493.84 453.07 L494.17 454.96" stroke="#d22222" stroke-width="0.55" opacity="0.8"/>
<path d="M49.99 450.10 L50.32 447.71 L50.65 445.20 L50.98 441.53 L51.31 437.46 L51.64 433.54 M51.97 429.47 L52.30 425.22 L52.63 420.81 L52.96 418.10 L53.29 417.46 L53.62 416.71 L53.95 414.81 L54.28 411.39 L54.61 407.86 L54.94 407.76 L55.27 406.11 L55.60 404.92 L55.93 401.83 L56.26 395.20 L56.59 393.90 L56.92 389.52 L57.25 393.55 L57.58 390.11 L57.91 385.91 L58.24 385.71 L58.57 389.13 L58.90 387.22 L59.23 387.25 L59.56 389.22 L59.89 393.04 L60.22 397.41 L60.55 396.27 L60.88 402.15 L61.21 403.71 L61.54 407.71 L61.87 412.89 L62.20 415.18 L62.53 418.56 L62.86 420.90 L63.19 424.09 L63.52 426.93 L63.85 431.57 L64.18 435.60 L64.51 438.42 L64.84 443.06 L65.17 445.68 L65.50 447.31 L65.83 449.86 L66.16 451.90 M94.54 450.30 L94.87 447.79 L95.20 445.01 L95.53 441.61 L95.86 438.56 L96.19 433.59 M97.51 413.67 L97.84 411.18 L98.17 405.05 L98.50 400.81 L98.83 396.65 L99.16 397.17 L99.49 390.59 L99.82 393.44 L100.15 397.17 L100.48 398.92 L100.81 401.36 L101.14 404.08 L101.47 408.79 L101.80 412.55 L102.13 415.91 L102.46 417.52 L102.79 420.80 L103.12 422.55 L103.45 420.44 L103.78 420.23 L104.11 419.66 L104.44 414.69 L104.77 416.55 L105.10 415.45 L105.43 417.34 L105.76 420.79 L106.09 420.89 L106.42 424.42 L106.75 430.08 L107.08 432.15 L107.41 434.23 L107.74 435.99 L108.07 436.03 L108.40 436.79 L108.73 437.65 L109.06 438.35 L109.39 439.84 L109.72 439.33 L110.05 438.32 L110.38 436.93 L110.71 435.96 L111.04 433.47 L111.37 429.19 L111.70 427.43 L112.03 422.43 L112.36 418.44 L112.69 412.29 L113.02 413.24 L113.35 413.16 L113.68 412.30 L114.01 413.51 L114.34 418.50 L114.67 419.20 L115.00 424.37 L115.33 424.95 L115.66 428.76 L115.99 429.15 L116.32 433.50 L116.65 434.95 L116.98 437.53 L117.31 441.27 L117.64 444.02 L117.97 445.64 L118.30 447.82 L118.63 449.58 L118.96 450.77 M121.60 449.03 L121.93 447.13 L122.26 444.08 L122.59 442.19 L122.92 438.26 L123.25 434.11 L123.58 431.89 L123.91 429.98 L124.24 428.15 L124.57 426.88 L124.90 425.68 L125.23 424.04 L125.56 423.45 L125.89 423.20 L126.22 420.75 L126.55 417.92 L126.88 415.27 L127.21 408.58 L127.54 409.11 L127.87 405.25 L128.20 400.11 L128.53 398.18 L128.86 397.52 L129.19 391.15 L129.52 391.92 L129.85 388.55 L130.18 390.01 L130.51 383.35 L130.84 387.90 L131.17 385.97 L131.50 383.57 L131.83 384.72 L132.16 386.82 L132.49 389.13 L132.82 394.25 L133.15 396.36 L133.48 394.55 L133.81 397.44 L134.14 392.73 L134.47 398.76 L134.80 397.43 L135.13 398.66 L135.46 400.32 L135.79 398.32 L136.12 401.63 L136.45 398.37 L136.78 400.83 L137.11 403.72 L137.44 402.39 L137.77 403.40 L138.10 406.10 L138.43 403.59 L138.76 403.15 L139.09 404.71 L139.42 406.32 L139.75 404.32 L140.08 405.23 L140.41 409.69 L140.74 413.20 L141.07 413.38 M142.39 436.57 L142.72 439.37 L143.05 443.71 L143.38 446.76 L143.71 449.43 L144.04 451.36 M149.65 447.88 L149.98 445.06 L150.31 442.04 L150.64 436.43 M151.30 426.30 L151.63 421.14 L151.96 418.58 L152.29 416.61 L152.62 413.48 L152.95 408.46 L153.28 409.81 L153.61 408.07 L153.94 406.62 L154.27 410.97 L154.60 410.92 L154.93 416.50 L155.26 416.86 L155.59 419.65 L155.92 423.14 L156.25 427.10 M156.91 437.91 L157.24 443.00 L157.57 445.69 L157.90 448.68 L158.23 451.09 M162.85 448.81 L163.18 445.57 L163.51 442.46 L163.84 439.29 M164.83 421.88 L165.16 418.19 L165.49 416.13 L165.82 412.52 L166.15 409.45 L166.48 407.31 L166.81 407.65 L167.14 402.75 L167.47 403.81 L167.80 410.20 L168.13 408.60 L168.46 413.18 L168.79 417.67 L169.12 418.44 L169.45 424.04 M170.11 434.97 L170.44 440.15 L170.77 444.39 L171.10 446.30 L171.43 449.14 L171.76 451.36 M178.69 448.48 L179.02 446.64 L179.35 443.45 L179.68 439.78 L180.01 436.86 M180.67 425.50 L181.00 422.89 L181.33 418.13 L181.66 415.29 L181.99 413.43 L182.32 409.45 L182.65 410.57 L182.98 406.06 L183.31 402.81 L183.64 400.10 L183.97 399.72 L184.30 398.35 L184.63 398.62 L184.96 397.56 L185.29 398.16 L185.62 397.04 L185.95 398.38 L186.28 399.79 L186.61 399.92 L186.94 405.59 L187.27 403.37 L187.60 406.38 L187.93 407.01 L188.26 411.44 L188.59 413.03 L188.92 413.64 L189.25 418.29 L189.58 418.37 L189.91 419.09 L190.24 419.73 L190.57 424.20 L190.90 425.50 L191.23 430.95 L191.56 434.76 L191.89 438.02 L192.22 441.28 L192.55 443.99 L192.88 446.69 L193.21 449.69 L193.54 451.29 M203.77 449.45 L204.10 447.12 L204.43 443.96 L204.76 440.76 L205.09 437.05 M205.42 431.21 L205.75 428.65 L206.08 425.83 L206.41 426.67 L206.74 425.59 L207.07 423.64 L207.40 423.86 L207.73 423.38 L208.06 421.87 L208.39 423.05 L208.72 420.95 L209.05 423.47 L209.38 422.47 L209.71 422.15 L210.04 420.97 L210.37 417.22 L210.70 419.27 L211.03 416.67 L211.36 413.92 L211.69 411.73 L212.02 409.87 L212.35 409.86 L212.68 408.54 L213.01 403.15 L213.34 404.61 L213.67 402.98 L214.00 400.58 L214.33 398.26 L214.66 395.88 L214.99 398.96 L215.32 403.05 L215.65 407.22 L215.98 410.59 L216.31 414.64 L216.64 418.51 L216.97 420.57 L217.30 419.79 L217.63 416.38 L217.96 415.12 L218.29 412.21 L218.62 413.12 L218.95 406.96 L219.28 407.37 L219.61 403.13 L219.94 403.22 L220.27 401.86 L220.60 398.82 L220.93 398.35 L221.26 396.75 L221.59 398.63 L221.92 395.35 L222.25 396.48 L222.58 398.38 L222.91 398.97 L223.24 398.47 L223.57 401.47 L223.90 400.80 L224.23 406.09 L224.56 408.43 L224.89 406.08 L225.22 411.97 L225.55 413.73 L225.88 416.88 L226.21 417.60 L226.54 416.14 L226.87 412.74 L227.20 413.41 L227.53 406.82 L227.86 402.87 L228.19 402.13 L228.52 400.91 L228.85 399.60 L229.18 397.78 L229.51 394.80 L229.84 389.40 L230.17 392.66 L230.50 385.74 L230.83 384.86 L231.16 387.95 L231.49 386.76 L231.82 381.77 L232.15 382.29 L232.48 385.13 L232.81 381.91 L233.14 386.93 L233.47 386.01 L233.80 388.56 L234.13 385.49 L234.46 389.69 L234.79 389.67 L235.12 386.61 L235.45 389.35 L235.78 389.94 L236.11 391.53 L236.44 394.50 L236.77 399.06 L237.10 397.76 L237.43 401.42 L237.76 401.04 L238.09 401.58 L238.42 406.54 M239.74 437.03 L240.07 440.94 L240.40 444.64 L240.73 447.37 L241.06 450.15 M280.66 447.94 L280.99 445.51 L281.32 442.13 L281.65 437.54 L281.98 434.64 L282.31 429.19 L282.64 424.83 L282.97 423.30 L283.30 419.60 L283.63 414.81 L283.96 411.84 L284.29 409.47 L284.62 409.51 L284.95 403.62 L285.28 402.51 L285.61 402.00 L285.94 398.67 L286.27 394.53 L286.60 393.26 L286.93 394.87 L287.26 396.00 L287.59 390.61 L287.92 390.59 L288.25 394.82 L288.58 398.42 L288.91 398.83 L289.24 400.20 L289.57 403.13 L289.90 404.90 L290.23 405.60 L290.56 405.03 L290.89 405.67 L291.22 403.78 L291.55 399.09 L291.88 403.01 L292.21 397.97 L292.54 396.50 L292.87 397.67 L293.20 395.77 L293.53 397.39 L293.86 394.56 L294.19 394.41 L294.52 394.57 L294.85 396.47 L295.18 394.41 L295.51 395.82 L295.84 398.40 L296.17 398.81 L296.50 402.12 L296.83 400.38 L297.16 404.39 L297.49 406.14 L297.82 412.07 L298.15 412.32 L298.48 418.89 L298.81 421.04 L299.14 426.69 L299.47 430.10 L299.80 430.93 L300.13 433.92 L300.46 433.49 L300.79 434.06 L301.12 432.36 L301.45 433.93 L301.78 432.84 L302.11 430.91 L302.44 430.61 L302.77 429.77 L303.10 427.79 L303.43 428.94 L303.76 424.86 L304.09 422.18 L304.42 419.68 L304.75 417.42 L305.08 417.82 L305.41 415.76 L305.74 410.66 L306.07 409.13 L306.40 408.60 L306.73 407.83 L307.06 403.35 L307.39 404.00 L307.72 399.13 L308.05 400.17 L308.38 396.51 L308.71 399.53 L309.04 396.35 L309.37 397.80 L309.70 393.00 L310.03 393.52 L310.36 394.73 L310.69 389.56 L311.02 390.52 L311.35 391.90 L311.68 387.86 L312.01 390.13 L312.34 385.81 L312.67 389.28 L313.00 384.08 L313.33 389.43 L313.66 384.18 L313.99 386.28 L314.32 384.25 L314.65 381.48 L314.98 384.35 L315.31 381.88 L315.64 381.75 L315.97 376.38 L316.30 379.93 L316.63 378.28 L316.96 380.53 L317.29 382.57 L317.62 379.19 L317.95 383.67 L318.28 384.04 L318.61 385.07 L318.94 385.76 L319.27 390.87 L319.60 393.58 L319.93 392.85 L320.26 396.41 L320.59 399.11 L320.92 396.02 L321.25 399.79 L321.58 403.16 L321.91 406.91 L322.24 406.42 L322.57 410.22 L322.90 415.13 L323.23 416.43 M323.89 426.94 L324.22 430.50 L324.55 433.14 L324.88 434.54 L325.21 433.76 L325.54 434.14 L325.87 431.06 L326.20 429.37 L326.53 425.47 L326.86 419.21 L327.19 417.65 L327.52 414.80 L327.85 414.54 L328.18 414.88 L328.51 416.59 L328.84 416.69 L329.17 418.38 L329.50 418.26 L329.83 418.95 L330.16 422.14 L330.49 420.36 L330.82 417.66 L331.15 415.00 L331.48 411.46 L331.81 403.76 L332.14 403.56 L332.47 398.40 L332.80 390.94 L333.13 390.91 L333.46 388.30 L333.79 382.34 L334.12 383.81 L334.45 386.79 L334.78 390.27 L335.11 391.26 L335.44 389.03 L335.77 392.59 L336.10 399.10 L336.43 397.66 L336.76 401.32 L337.09 400.91 L337.42 403.92 L337.75 404.84 L338.08 404.82 L338.41 402.21 L338.74 397.48 L339.07 395.19 L339.40 394.02 L339.73 391.13 L340.06 392.11 L340.39 388.86 L340.72 383.34 L341.05 381.42 L341.38 384.72 L341.71 383.36 L342.04 384.68 L342.37 387.59 L342.70 395.05 L343.03 394.88 L343.36 399.13 M344.68 435.65 L345.01 438.28 L345.34 442.18 L345.67 445.46 L346.00 449.33 L346.33 451.83 M392.86 449.94 L393.19 447.09 L393.52 443.96 L393.85 439.90 L394.18 434.51 M396.16 377.11 L396.49 373.69 L396.82 371.68 L397.15 372.70 L397.48 376.95 L397.81 380.05 L398.14 374.30 L398.47 379.96 L398.80 377.43 L399.13 380.45 L399.46 376.87 L399.79 381.94 L400.12 381.16 L400.45 383.70 L400.78 380.78 L401.11 385.32 L401.44 389.89 M402.43 404.79 L402.76 408.44 L403.09 409.28 L403.42 406.58 L403.75 405.72 L404.08 403.97 L404.41 397.66 L404.74 395.77 L405.07 391.45 L405.40 388.89 L405.73 385.12 L406.06 379.58 L406.39 377.57 L406.72 378.29 L407.05 373.98 L407.38 373.33 L407.71 374.13 L408.04 376.15 L408.37 374.17 L408.70 377.93 L409.03 381.69 L409.36 381.54 L409.69 380.00 L410.02 383.32 L410.35 384.48 L410.68 386.17 L411.01 389.54 L411.34 393.51 L411.67 397.96 L412.00 398.96 L412.33 404.89 L412.66 407.42 L412.99 408.51 L413.32 413.16 L413.65 415.38 L413.98 417.89 L414.31 418.57 L414.64 421.81 L414.97 419.02 L415.30 413.75 L415.63 411.76 L415.96 405.08 L416.29 404.46 L416.62 401.22 M417.61 384.12 L417.94 377.59 L418.27 380.58 L418.60 373.03 L418.93 375.35 L419.26 374.75 L419.59 373.39 L419.92 370.12 L420.25 369.65 L420.58 366.09 L420.91 372.17 L421.24 372.62 L421.57 372.60 L421.90 370.29 L422.23 370.16 L422.56 373.55 L422.89 373.64 L423.22 374.29 L423.55 379.40 L423.88 377.87 L424.21 372.25 L424.54 376.89 L424.87 372.00 L425.20 374.96 L425.53 376.67 L425.86 378.31 L426.19 377.28 L426.52 377.70 L426.85 377.15 L427.18 377.71 L427.51 379.61 M429.49 435.63 L429.82 440.22 L430.15 443.65 L430.48 447.62 L430.81 450.56 M484.60 450.06 L484.93 446.99 L485.26 444.77 L485.59 441.12 L485.92 437.04 L486.25 433.52 M487.24 419.00 L487.57 412.82 M489.22 381.94 L489.55 384.60 L489.88 389.36 M492.85 434.27 L493.18 438.03 L493.51 441.70 L493.84 444.86 L494.17 447.82 L494.50 450.94" stroke="#4f8ad0" stroke-width="0.55" opacity="0.6"/>
<path d="M49.66 447.34 L49.99 443.80 L50.32 440.56 L50.65 437.23 M52.30 400.31 L52.63 395.70 L52.96 391.87 L53.29 392.96 L53.62 388.02 L53.95 386.63 L54.28 381.52 L54.61 380.00 L54.94 367.67 L55.27 370.11 L55.60 362.22 L55.93 361.82 L56.26 352.86 L56.59 351.10 L56.92 352.55 L57.25 343.01 L57.58 338.82 L57.91 336.65 L58.24 338.81 L58.57 344.16 L58.90 346.88 L59.23 343.93 L59.56 351.08 L59.89 358.97 M60.22 357.48 L60.55 364.27 M61.54 381.98 L61.87 387.53 L62.20 392.18 L62.53 389.35 L62.86 396.58 M64.84 434.22 L65.17 438.15 L65.50 439.93 L65.83 443.92 L66.16 447.22 L66.49 449.65 M94.21 447.21 L94.54 443.63 L94.87 440.05 L95.20 436.21 M98.83 346.53 L99.16 343.34 L99.49 344.61 L99.82 339.80 L100.15 346.73 M102.46 395.01 L102.79 394.55 L103.12 393.08 L103.45 394.39 L103.78 386.97 L104.11 383.86 L104.44 386.41 L104.77 378.50 L105.10 374.78 L105.43 378.70 L105.76 373.99 L106.09 374.15 M108.73 426.35 L109.06 428.76 L109.39 430.00 L109.72 432.44 L110.05 432.27 L110.38 429.00 L110.71 426.06 M113.02 366.95 L113.35 361.53 L113.68 364.95 L114.01 363.49 L114.34 366.44 M114.67 375.30 L115.00 379.63 L115.33 382.30 M116.65 402.52 L116.98 408.11 L117.31 407.37 M118.63 434.57 L118.96 439.85 L119.29 442.66 L119.62 444.95 L119.95 446.76 L120.28 446.71 L120.61 448.08 L120.94 447.81 L121.27 446.15 L121.60 444.94 L121.93 443.67 L122.26 440.58 L122.59 436.06 L122.92 432.91 M123.58 422.65 L123.91 416.07 L124.24 412.67 L124.57 409.78 L124.90 408.18 L125.23 407.50 L125.56 407.16 L125.89 402.23 L126.22 398.62 L126.55 400.48 L126.88 397.67 L127.21 392.25 L127.54 386.19 M128.53 376.26 L128.86 366.45 L129.19 364.22 L129.52 359.69 L129.85 353.23 L130.18 349.86 L130.51 347.14 L130.84 344.67 L131.17 345.80 L131.50 342.25 L131.83 346.37 L132.16 343.54 L132.49 347.15 L132.82 350.81 L133.15 355.08 L133.48 356.75 L133.81 357.23 L134.14 361.61 L134.47 355.53 L134.80 360.07 L135.13 363.68 L135.46 364.47 L135.79 364.77 L136.12 369.01 L136.45 365.95 L136.78 365.96 L137.11 371.25 L137.44 373.35 L137.77 366.74 L138.10 363.48 L138.43 370.53 L138.76 366.18 L139.09 366.81 L139.42 368.29 L139.75 378.40 L140.08 382.21 L140.41 378.28 L140.74 388.22 L141.07 389.88 L141.40 390.11 M143.05 434.43 L143.38 437.26 L143.71 442.57 L144.04 445.17 L144.37 448.81 M148.99 447.55 L149.32 444.93 L149.65 441.37 L149.98 435.78 M152.95 376.69 L153.28 374.00 L153.61 368.05 L153.94 367.21 L154.27 376.20 L154.60 381.10 M157.57 436.00 L157.90 441.93 L158.23 444.81 L158.56 447.55 L158.89 450.89 M162.19 447.09 L162.52 444.33 L162.85 440.89 L163.18 435.42 L163.51 432.64 M166.81 343.45 L167.14 345.95 L167.47 344.71 M170.77 433.67 L171.10 437.03 L171.43 440.64 L171.76 445.73 L172.09 448.12 M178.36 445.89 L178.69 441.17 L179.02 438.85 L179.35 433.97 M182.65 360.32 L182.98 355.09 L183.31 354.55 L183.64 352.74 L183.97 358.35 L184.30 357.81 L184.63 353.37 L184.96 353.03 L185.29 352.02 L185.62 344.52 L185.95 345.35 L186.28 339.21 L186.61 340.07 L186.94 345.40 L187.27 346.40 L187.60 356.16 L187.93 356.21 L188.26 355.65 L188.59 362.21 L188.92 366.43 L189.25 369.15 L189.58 372.16 L189.91 376.41 L190.24 382.07 M191.23 399.83 L191.56 401.65 L191.89 401.19 M193.21 435.92 L193.54 439.14 L193.87 442.95 L194.20 447.04 L194.53 449.98 M202.78 447.48 L203.11 442.77 L203.44 439.69 L203.77 434.55 L204.10 430.77 M206.08 369.37 L206.41 358.59 L206.74 361.42 L207.07 357.59 L207.40 354.53 L207.73 353.37 L208.06 347.86 L208.39 342.86 L208.72 341.47 L209.05 344.42 L209.38 344.33 L209.71 344.17 L210.04 343.23 L210.37 349.37 L210.70 348.59 L211.03 352.61 L211.36 352.35 L211.69 348.73 L212.02 345.43 L212.35 345.01 L212.68 341.63 L213.01 336.31 L213.34 333.15 L213.67 335.13 L214.00 334.80 M215.65 376.10 L215.98 370.62 L216.31 379.04 L216.64 377.62 L216.97 377.79 L217.30 375.01 L217.63 379.12 L217.96 372.86 M219.61 339.59 L219.94 338.53 L220.27 335.67 L220.60 329.46 L220.93 332.90 L221.26 323.81 L221.59 322.13 L221.92 322.51 L222.25 326.81 L222.58 320.44 L222.91 320.61 L223.24 319.91 L223.57 328.54 M225.55 363.46 L225.88 366.65 L226.21 369.98 L226.54 377.09 L226.87 379.72 L227.20 381.70 L227.53 383.27 L227.86 377.93 M230.83 330.92 L231.16 330.72 L231.49 330.25 L231.82 328.45 L232.15 328.46 L232.48 329.30 L232.81 330.63 L233.14 328.90 L233.47 336.55 L233.80 331.61 L234.13 333.98 L234.46 332.82 L234.79 337.36 L235.12 341.67 L235.45 335.71 L235.78 342.23 L236.11 345.43 L236.44 342.48 L236.77 347.42 M237.76 364.10 L238.09 374.36 M240.07 434.80 L240.40 437.52 L240.73 441.02 L241.06 446.26 L241.39 449.30 M280.00 445.03 L280.33 441.15 L280.66 437.63 L280.99 434.05 M282.64 398.12 L282.97 392.02 L283.30 389.12 L283.63 382.71 L283.96 380.83 L284.29 378.56 L284.62 371.62 L284.95 363.96 L285.28 365.27 L285.61 361.45 L285.94 355.87 L286.27 356.65 L286.60 350.21 L286.93 348.20 L287.26 352.46 L287.59 348.14 L287.92 354.56 M289.24 374.64 L289.57 384.26 L289.90 378.44 L290.23 377.83 L290.56 377.04 L290.89 365.04 L291.22 363.13 L291.55 364.26 M292.87 341.62 L293.20 331.79 L293.53 336.84 L293.86 327.56 L294.19 331.80 L294.52 341.24 M295.51 354.53 L295.84 355.52 L296.17 356.12 L296.50 353.25 L296.83 360.81 L297.16 355.04 M299.80 424.73 L300.13 430.00 L300.46 429.72 L300.79 432.13 L301.12 431.93 L301.45 428.95 L301.78 426.48 L302.11 422.58 L302.44 419.83 L302.77 418.33 L303.10 419.25 L303.43 419.33 L303.76 415.83 L304.09 416.54 L304.42 415.82 L304.75 414.88 L305.08 417.21 L305.41 416.00 L305.74 412.04 M307.72 372.92 L308.05 369.27 L308.38 359.56 L308.71 354.80 L309.04 355.06 L309.37 348.66 L309.70 351.43 L310.03 346.37 L310.36 344.04 L310.69 346.49 L311.02 345.30 L311.35 342.68 L311.68 342.61 L312.01 346.24 L312.34 340.90 L312.67 345.98 L313.00 337.12 L313.33 342.89 L313.66 341.16 L313.99 340.32 L314.32 331.94 L314.65 337.16 L314.98 333.44 L315.31 329.48 L315.64 329.84 L315.97 338.78 L316.30 335.89 L316.63 336.99 L316.96 338.10 L317.29 343.39 L317.62 345.23 L317.95 349.83 L318.28 351.26 L318.61 348.39 L318.94 354.51 L319.27 355.37 L319.60 356.36 L319.93 361.10 L320.26 364.19 L320.59 359.37 L320.92 367.40 L321.25 373.33 L321.58 372.77 L321.91 383.00 M323.23 398.20 L323.56 404.83 L323.89 404.01 L324.22 403.42 M326.53 358.38 L326.86 360.10 L327.19 359.42 L327.52 364.33 M329.17 395.54 L329.50 397.07 L329.83 394.22 L330.16 388.26 M332.47 350.95 L332.80 341.65 L333.13 336.72 L333.46 333.41 L333.79 333.43 L334.12 333.72 L334.45 333.82 L334.78 326.72 L335.11 327.96 L335.44 338.51 M336.10 346.91 L336.43 352.20 L336.76 353.70 L337.09 359.47 L337.42 354.96 L337.75 355.37 L338.08 348.11 L338.41 346.75 L338.74 339.92 L339.07 336.15 L339.40 338.17 L339.73 335.89 L340.06 327.48 L340.39 329.20 L340.72 331.37 L341.05 331.51 L341.38 324.48 L341.71 331.85 M342.37 344.33 L342.70 348.86 L343.03 353.30 M345.01 428.86 L345.34 433.71 L345.67 437.76 L346.00 442.43 L346.33 446.94 L346.66 449.51 M392.86 444.85 L393.19 440.26 L393.52 437.22 L393.85 432.41 L394.18 430.26 M395.83 353.24 L396.16 352.60 L396.49 346.71 L396.82 349.54 L397.15 340.40 L397.48 344.62 L397.81 341.76 L398.14 333.15 L398.47 332.24 L398.80 331.33 L399.13 325.21 L399.46 326.05 L399.79 326.77 M401.77 365.02 L402.10 365.88 L402.43 373.29 L402.76 367.34 L403.09 370.72 L403.42 368.39 L403.75 368.93 L404.08 364.66 M405.40 343.76 L405.73 339.12 L406.06 332.61 L406.39 328.31 L406.72 322.07 L407.05 327.59 L407.38 324.32 L407.71 322.50 L408.04 318.88 L408.37 322.29 L408.70 324.08 L409.03 323.67 L409.36 326.74 L409.69 332.38 L410.02 336.71 L410.35 336.15 L410.68 336.82 M411.67 358.11 L412.00 363.17 L412.33 365.34 L412.66 369.31 L412.99 369.60 L413.32 377.74 L413.65 378.30 L413.98 376.00 L414.31 371.88 L414.64 370.89 L414.97 369.69 L415.30 362.82 L415.63 361.79 L415.96 353.53 L416.29 355.25 M417.94 323.74 L418.27 320.66 L418.60 320.40 L418.93 310.45 L419.26 314.11 L419.59 304.56 L419.92 305.40 L420.25 311.28 L420.58 314.05 L420.91 308.76 L421.24 314.10 L421.57 319.03 L421.90 317.30 L422.23 320.94 L422.56 320.95 L422.89 320.43 L423.22 319.28 L423.55 321.04 L423.88 326.10 L424.21 320.61 L424.54 316.70 L424.87 308.23 L425.20 313.04 L425.53 307.60 L425.86 304.71 L426.19 311.91 L426.52 316.92 L426.85 318.10 L427.18 323.57 M429.49 426.31 L429.82 430.17 L430.15 434.42 L430.48 440.70 L430.81 445.42 L431.14 448.56 M484.27 448.04 L484.60 444.03 L484.93 440.52 L485.26 438.04 L485.59 433.31 M489.22 333.08 L489.55 335.28 M493.51 433.39 L493.84 439.10 L494.17 442.97 L494.50 445.65 L494.83 448.96" stroke="#2c4a34" stroke-width="0.5" opacity="0.7"/>
</g></g>
<line x1="34.6" y1="472.5" x2="40.5" y2="472.5" stroke="#bdbdbd" stroke-width="0.9"/>
<text x="42.3" y="474.6" font-size="6.7" text-anchor="start" fill="#111" stroke="#111" stroke-width="0.22" textLength="64.2" lengthAdjust="spacingAndGlyphs">Lower (5th percentile)</text>
<line x1="129.5" y1="472.5" x2="135.6" y2="472.5" stroke="#bdbdbd" stroke-width="0.9"/>
<text x="137.8" y="474.6" font-size="6.7" text-anchor="start" fill="#111" stroke="#111" stroke-width="0.22" textLength="71.3" lengthAdjust="spacingAndGlyphs">Median (50th percentile)</text>
<line x1="225.2" y1="472.5" x2="230.7" y2="472.5" stroke="#bdbdbd" stroke-width="0.9"/>
<text x="232.5" y="474.6" font-size="6.7" text-anchor="start" fill="#111" stroke="#111" stroke-width="0.22" textLength="68.5" lengthAdjust="spacingAndGlyphs">Upper (95th percentile)</text>
<text x="20.9" y="494.1" font-size="6.3" text-anchor="middle" fill="#111" textLength="19" lengthAdjust="spacingAndGlyphs" transform="rotate(-90 20.9 494.1)">Targets</text>
<text x="20.9" y="529" font-size="6.3" text-anchor="middle" fill="#111" textLength="21" lengthAdjust="spacingAndGlyphs" transform="rotate(-90 20.9 529)">ITGA2B</text>
<rect x="53.55" y="485.2" width="8.1" height="18.3" fill="#b3d3e3" stroke="#a3bccb" stroke-width="0.35"/>
<rect x="96.95" y="485.2" width="4.7" height="18.3" fill="#b3d3e3" stroke="#a3bccb" stroke-width="0.35"/>
<rect x="103.95" y="485.2" width="4" height="18.3" fill="#b3d3e3" stroke="#a3bccb" stroke-width="0.35"/>
<rect x="110.95" y="485.2" width="4.6" height="18.3" fill="#b3d3e3" stroke="#a3bccb" stroke-width="0.35"/>
<rect x="123.05" y="485.2" width="4.8" height="18.3" fill="#b3d3e3" stroke="#a3bccb" stroke-width="0.35"/>
<rect x="128.15" y="485.2" width="8.9" height="18.3" fill="#b3d3e3" stroke="#a3bccb" stroke-width="0.35"/>
<rect x="137.75" y="485.2" width="3.2" height="18.3" fill="#b3d3e3" stroke="#a3bccb" stroke-width="0.35"/>
<rect x="151.95" y="485.2" width="2.8" height="18.3" fill="#b3d3e3" stroke="#a3bccb" stroke-width="0.35"/>
<rect x="166.15" y="485.2" width="2.8" height="18.3" fill="#b3d3e3" stroke="#a3bccb" stroke-width="0.35"/>
<rect x="179.65" y="485.2" width="3.2" height="18.3" fill="#b3d3e3" stroke="#a3bccb" stroke-width="0.35"/>
<rect x="183.15" y="485.2" width="5.8" height="18.3" fill="#b3d3e3" stroke="#a3bccb" stroke-width="0.35"/>
<rect x="206.25" y="485.2" width="5.1" height="18.3" fill="#b3d3e3" stroke="#a3bccb" stroke-width="0.35"/>
<rect x="211.65" y="485.2" width="8.9" height="18.3" fill="#b3d3e3" stroke="#a3bccb" stroke-width="0.35"/>
<rect x="220.85" y="485.2" width="17.4" height="18.3" fill="#b3d3e3" stroke="#a3bccb" stroke-width="0.35"/>
<rect x="283.05" y="485.2" width="6.4" height="18.3" fill="#b3d3e3" stroke="#a3bccb" stroke-width="0.35"/>
<rect x="291.35" y="485.2" width="2.9" height="18.3" fill="#b3d3e3" stroke="#a3bccb" stroke-width="0.35"/>
<rect x="294.55" y="485.2" width="4.5" height="18.3" fill="#b3d3e3" stroke="#a3bccb" stroke-width="0.35"/>
<rect x="300.95" y="485.2" width="42" height="18.3" fill="#b3d3e3" stroke="#a3bccb" stroke-width="0.35"/>
<rect x="395.85" y="485.2" width="15.9" height="18.3" fill="#b3d3e3" stroke="#a3bccb" stroke-width="0.35"/>
<rect x="412.05" y="485.2" width="15.8" height="18.3" fill="#b3d3e3" stroke="#a3bccb" stroke-width="0.35"/>
<rect x="488.15" y="485.2" width="2.5" height="18.3" fill="#b3d3e3" stroke="#a3bccb" stroke-width="0.35"/>
<line x1="59.5" y1="529.5" x2="402.3" y2="529.5" stroke="#b9bcc8" stroke-width="0.8"/>
<rect x="54.6" y="523.1" width="3.9" height="12.6" fill="#e5a43a" stroke="#b08040" stroke-width="0.5"/>
<rect x="58.5" y="516.5" width="1.2" height="26.1" fill="#e5a43a" stroke="#a57a3c" stroke-width="0.55"/>
<rect x="98.9" y="516.5" width="2.1" height="26.1" fill="#e5a43a" stroke="#a57a3c" stroke-width="0.55"/>
<rect x="105.6" y="516.5" width="1.9" height="26.1" fill="#e5a43a" stroke="#a57a3c" stroke-width="0.55"/>
<rect x="112.3" y="516.5" width="1.9" height="26.1" fill="#e5a43a" stroke="#a57a3c" stroke-width="0.55"/>
<rect x="124" y="516.5" width="2.3" height="26.1" fill="#e5a43a" stroke="#a57a3c" stroke-width="0.55"/>
<rect x="128.7" y="516.5" width="3.1" height="26.1" fill="#e5a43a" stroke="#a57a3c" stroke-width="0.55"/>
<rect x="134" y="516.5" width="1.8" height="26.1" fill="#e5a43a" stroke="#a57a3c" stroke-width="0.55"/>
<rect x="138.7" y="516.5" width="1.1" height="26.1" fill="#e5a43a" stroke="#a57a3c" stroke-width="0.55"/>
<rect x="153" y="516.5" width="1.4" height="26.1" fill="#e5a43a" stroke="#a57a3c" stroke-width="0.55"/>
<rect x="166.8" y="516.5" width="1.9" height="26.1" fill="#e5a43a" stroke="#a57a3c" stroke-width="0.55"/>
<rect x="180.5" y="516.5" width="2.7" height="26.1" fill="#e5a43a" stroke="#a57a3c" stroke-width="0.55"/>
<rect x="186" y="516.5" width="1.5" height="26.1" fill="#e5a43a" stroke="#a57a3c" stroke-width="0.55"/>
<rect x="207.5" y="516.5" width="2.4" height="26.1" fill="#e5a43a" stroke="#a57a3c" stroke-width="0.55"/>
<rect x="214" y="516.5" width="2.8" height="26.1" fill="#e5a43a" stroke="#a57a3c" stroke-width="0.55"/>
<rect x="218.7" y="516.5" width="0.7" height="26.1" fill="#e5a43a" stroke="#a57a3c" stroke-width="0.55"/>
<rect x="221.7" y="516.5" width="2.3" height="26.1" fill="#e5a43a" stroke="#a57a3c" stroke-width="0.55"/>
<rect x="226" y="516.5" width="0.8" height="26.1" fill="#e5a43a" stroke="#a57a3c" stroke-width="0.55"/>
<rect x="231.8" y="516.5" width="3.3" height="26.1" fill="#e5a43a" stroke="#a57a3c" stroke-width="0.55"/>
<rect x="284.8" y="516.5" width="4.2" height="26.1" fill="#e5a43a" stroke="#a57a3c" stroke-width="0.55"/>
<rect x="293.3" y="516.5" width="0.8" height="26.1" fill="#e5a43a" stroke="#a57a3c" stroke-width="0.55"/>
<rect x="296.8" y="516.5" width="1" height="26.1" fill="#e5a43a" stroke="#a57a3c" stroke-width="0.55"/>
<rect x="301" y="516.5" width="1.4" height="26.1" fill="#e5a43a" stroke="#a57a3c" stroke-width="0.55"/>
<rect x="306" y="516.5" width="1" height="26.1" fill="#e5a43a" stroke="#a57a3c" stroke-width="0.55"/>
<rect x="314.5" y="516.5" width="2.2" height="26.1" fill="#e5a43a" stroke="#a57a3c" stroke-width="0.55"/>
<rect x="318.7" y="516.5" width="1.1" height="26.1" fill="#e5a43a" stroke="#a57a3c" stroke-width="0.55"/>
<rect x="321" y="516.5" width="1.1" height="26.1" fill="#e5a43a" stroke="#a57a3c" stroke-width="0.55"/>
<rect x="327.1" y="516.5" width="2.7" height="26.1" fill="#e5a43a" stroke="#a57a3c" stroke-width="0.55"/>
<rect x="332.2" y="516.5" width="1.8" height="26.1" fill="#e5a43a" stroke="#a57a3c" stroke-width="0.55"/>
<rect x="336" y="516.5" width="2.6" height="26.1" fill="#e5a43a" stroke="#a57a3c" stroke-width="0.55"/>
<rect x="402.3" y="516.5" width="4.1" height="26.1" fill="#e5a43a" stroke="#a57a3c" stroke-width="0.55"/>
<text x="231.4" y="514.9" font-size="5.05" text-anchor="middle" fill="#111" textLength="44.3" lengthAdjust="spacingAndGlyphs">ENST00000262407</text>
<line x1="35.4" y1="553.4" x2="509" y2="553.4" stroke="#b4b4b4" stroke-width="1.2"/>
<text x="64.6" y="551.2" font-size="4.6" text-anchor="middle" fill="#000" textLength="18.4" lengthAdjust="spacingAndGlyphs">42.45 mb</text>
<text x="165.8" y="558.6" font-size="4.6" text-anchor="middle" fill="#000" textLength="20.4" lengthAdjust="spacingAndGlyphs">42.455 mb</text>
<text x="268.2" y="551.2" font-size="4.6" text-anchor="middle" fill="#000" textLength="18.4" lengthAdjust="spacingAndGlyphs">42.46 mb</text>
<text x="369.4" y="558.6" font-size="4.6" text-anchor="middle" fill="#000" textLength="20.4" lengthAdjust="spacingAndGlyphs">42.465 mb</text>
<text x="470.5" y="551.2" font-size="4.6" text-anchor="middle" fill="#000" textLength="18.4" lengthAdjust="spacingAndGlyphs">42.47 mb</text>
<text x="33.8" y="567.8" font-size="6.9" text-anchor="start" fill="#111" stroke="#111" stroke-width="0.22" textLength="49.3" lengthAdjust="spacingAndGlyphs">Chromosome 17</text>
<rect x="85.3" y="563.4" width="426" height="4.1" rx="2" fill="#fff" stroke="#a4a4a4" stroke-width="0.8"/>
<rect x="102.2" y="563.4" width="17.6" height="4.1" fill="#8a8a8a"/>
<rect x="141.8" y="563.4" width="27.1" height="4.1" fill="#444"/>
<rect x="251.4" y="563.4" width="33.4" height="4.1" fill="#8a8a8a"/>
<rect x="284.8" y="563.4" width="14.8" height="4.1" fill="#c0c0c0"/>
<rect x="320.8" y="563.4" width="12.7" height="4.1" fill="#a8a8a8"/>
<rect x="348.3" y="563.4" width="38.2" height="4.1" fill="#444"/>
<rect x="391.2" y="563.4" width="14.3" height="4.1" fill="#444"/>
<rect x="413.4" y="563.4" width="7.4" height="4.1" fill="#9a9a9a"/>
<rect x="437.3" y="563.4" width="19.4" height="4.1" fill="#444"/>
<rect x="477.7" y="563.4" width="2" height="4.1" fill="#bbb"/>
<path d="M201.7 563.4 L211.5 565.4499999999999 L201.7 567.5 Z M221.2 563.4 L211.5 565.4499999999999 L221.2 567.5 Z" fill="#8b2a35"/>
<line x1="307.7" y1="561.5" x2="307.7" y2="569.5" stroke="#d03030" stroke-width="0.6"/>
</g>
<rect x="0.5" y="0.5" width="519" height="576" fill="none" stroke="#111" stroke-width="1"/>
</svg>
</body></html>
